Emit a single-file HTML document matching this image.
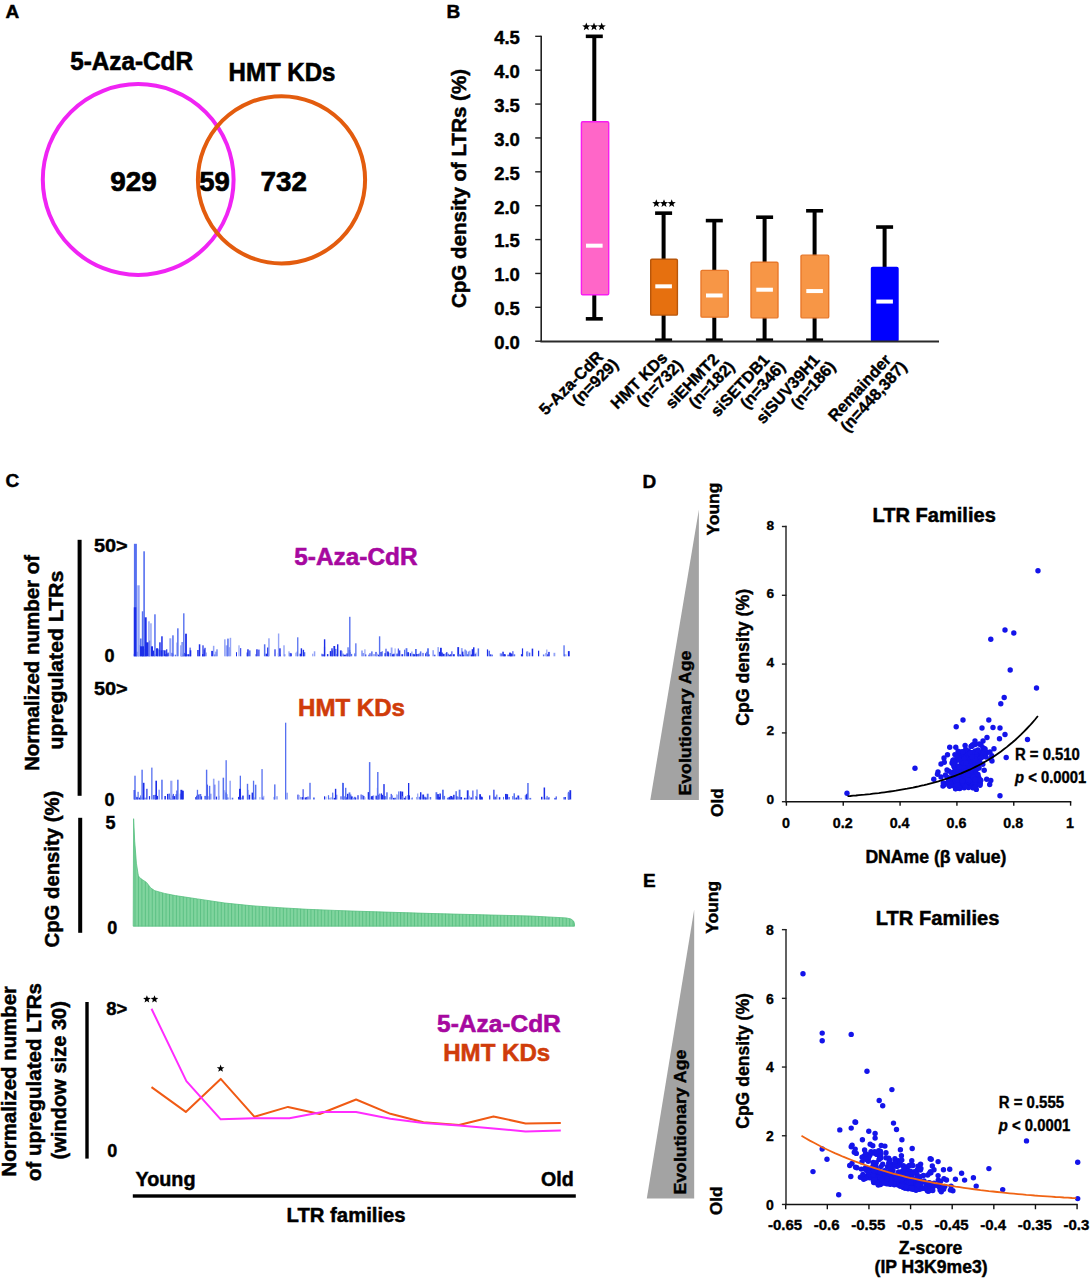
<!DOCTYPE html>
<html><head><meta charset="utf-8"><title>Figure</title>
<style>html,body{margin:0;padding:0;background:#fff}svg{display:block}text{font-family:"Liberation Sans",sans-serif;font-weight:bold}</style>
</head><body>
<svg width="1092" height="1280" viewBox="0 0 1092 1280">
<rect width="1092" height="1280" fill="#fff"/>
<text x="5.5" y="18" font-size="19" fill="#000" stroke="#000" stroke-width="0.46" text-anchor="start" >A</text>
<text x="446.5" y="17.8" font-size="19" fill="#000" stroke="#000" stroke-width="0.46" text-anchor="start" >B</text>
<text x="5.5" y="487" font-size="19" fill="#000" stroke="#000" stroke-width="0.46" text-anchor="start" >C</text>
<text x="642.5" y="487.6" font-size="19" fill="#000" stroke="#000" stroke-width="0.46" text-anchor="start" >D</text>
<text x="643" y="887.2" font-size="19" fill="#000" stroke="#000" stroke-width="0.46" text-anchor="start" >E</text>
<circle cx="138.2" cy="179.5" r="95.4" fill="none" stroke="#f024f4" stroke-width="4"/>
<circle cx="281.5" cy="179.8" r="83.6" fill="none" stroke="#e35c0e" stroke-width="4"/>
<text x="70.2" y="70.3" font-size="26" fill="#000" stroke="#000" stroke-width="0.62" text-anchor="start" textLength="122.8" lengthAdjust="spacingAndGlyphs" >5-Aza-CdR</text>
<text x="228.6" y="81.2" font-size="26" fill="#000" stroke="#000" stroke-width="0.62" text-anchor="start" textLength="106.8" lengthAdjust="spacingAndGlyphs" >HMT KDs</text>
<text x="110.2" y="191.2" font-size="28" fill="#000" stroke="#000" stroke-width="0.67" text-anchor="start" textLength="46.6" lengthAdjust="spacingAndGlyphs" >929</text>
<text x="199.3" y="191.2" font-size="28" fill="#000" stroke="#000" stroke-width="0.67" text-anchor="start" textLength="30.6" lengthAdjust="spacingAndGlyphs" >59</text>
<text x="260.5" y="190.6" font-size="28" fill="#000" stroke="#000" stroke-width="0.67" text-anchor="start" textLength="46.4" lengthAdjust="spacingAndGlyphs" >732</text>
<line x1="541.2" y1="35.624999999999986" x2="541.2" y2="341.2" stroke="#222" stroke-width="1.6"/>
<line x1="535.2" y1="341.2" x2="541.2" y2="341.2" stroke="#222" stroke-width="1.4"/>
<text x="519.9" y="349.09999999999997" font-size="18.8" fill="#000" stroke="#000" stroke-width="0.45" text-anchor="end" textLength="25.7" lengthAdjust="spacingAndGlyphs" >0.0</text>
<line x1="535.2" y1="307.325" x2="541.2" y2="307.325" stroke="#222" stroke-width="1.4"/>
<text x="519.9" y="315.22499999999997" font-size="18.8" fill="#000" stroke="#000" stroke-width="0.45" text-anchor="end" textLength="25.7" lengthAdjust="spacingAndGlyphs" >0.5</text>
<line x1="535.2" y1="273.45" x2="541.2" y2="273.45" stroke="#222" stroke-width="1.4"/>
<text x="519.9" y="281.34999999999997" font-size="18.8" fill="#000" stroke="#000" stroke-width="0.45" text-anchor="end" textLength="25.7" lengthAdjust="spacingAndGlyphs" >1.0</text>
<line x1="535.2" y1="239.575" x2="541.2" y2="239.575" stroke="#222" stroke-width="1.4"/>
<text x="519.9" y="247.475" font-size="18.8" fill="#000" stroke="#000" stroke-width="0.45" text-anchor="end" textLength="25.7" lengthAdjust="spacingAndGlyphs" >1.5</text>
<line x1="535.2" y1="205.7" x2="541.2" y2="205.7" stroke="#222" stroke-width="1.4"/>
<text x="519.9" y="213.6" font-size="18.8" fill="#000" stroke="#000" stroke-width="0.45" text-anchor="end" textLength="25.7" lengthAdjust="spacingAndGlyphs" >2.0</text>
<line x1="535.2" y1="171.825" x2="541.2" y2="171.825" stroke="#222" stroke-width="1.4"/>
<text x="519.9" y="179.725" font-size="18.8" fill="#000" stroke="#000" stroke-width="0.45" text-anchor="end" textLength="25.7" lengthAdjust="spacingAndGlyphs" >2.5</text>
<line x1="535.2" y1="137.95" x2="541.2" y2="137.95" stroke="#222" stroke-width="1.4"/>
<text x="519.9" y="145.85" font-size="18.8" fill="#000" stroke="#000" stroke-width="0.45" text-anchor="end" textLength="25.7" lengthAdjust="spacingAndGlyphs" >3.0</text>
<line x1="535.2" y1="104.07499999999999" x2="541.2" y2="104.07499999999999" stroke="#222" stroke-width="1.4"/>
<text x="519.9" y="111.975" font-size="18.8" fill="#000" stroke="#000" stroke-width="0.45" text-anchor="end" textLength="25.7" lengthAdjust="spacingAndGlyphs" >3.5</text>
<line x1="535.2" y1="70.19999999999999" x2="541.2" y2="70.19999999999999" stroke="#222" stroke-width="1.4"/>
<text x="519.9" y="78.1" font-size="18.8" fill="#000" stroke="#000" stroke-width="0.45" text-anchor="end" textLength="25.7" lengthAdjust="spacingAndGlyphs" >4.0</text>
<line x1="535.2" y1="36.32499999999999" x2="541.2" y2="36.32499999999999" stroke="#222" stroke-width="1.4"/>
<text x="519.9" y="44.22499999999999" font-size="18.8" fill="#000" stroke="#000" stroke-width="0.45" text-anchor="end" textLength="25.7" lengthAdjust="spacingAndGlyphs" >4.5</text>
<text x="466.3" y="308" font-size="21" fill="#000" stroke="#000" stroke-width="0.5" text-anchor="start" textLength="239" lengthAdjust="spacingAndGlyphs" transform="rotate(-90 466.3 308)" >CpG density of LTRs (%)</text>
<line x1="594.3" y1="36.32499999999999" x2="594.3" y2="318.8425" stroke="#000" stroke-width="4"/>
<line x1="585.8" y1="36.32499999999999" x2="602.8" y2="36.32499999999999" stroke="#000" stroke-width="3.6"/>
<line x1="585.8" y1="318.8425" x2="602.8" y2="318.8425" stroke="#000" stroke-width="3.6"/>
<rect x="581.4" y="121.68999999999997" width="27.300000000000068" height="173.10125000000002" fill="#ff66c8" stroke="#f81cf0" stroke-width="1.4" rx="1.2"/>
<rect x="586.0" y="243.6725" width="16.6" height="4" fill="#fff"/>
<line x1="663.6" y1="213.1525" x2="663.6" y2="341.2" stroke="#000" stroke-width="4"/>
<line x1="655.1" y1="213.1525" x2="672.1" y2="213.1525" stroke="#000" stroke-width="3.6"/>
<line x1="655.1" y1="340.2" x2="672.1" y2="340.2" stroke="#000" stroke-width="3.6"/>
<rect x="650.7" y="259.22249999999997" width="26.699999999999932" height="55.89375000000001" fill="#e6700f" stroke="#b8560a" stroke-width="1.4" rx="1.2"/>
<rect x="655.3000000000001" y="284.3225" width="16.6" height="4" fill="#fff"/>
<line x1="714.3" y1="220.605" x2="714.3" y2="341.2" stroke="#000" stroke-width="4"/>
<line x1="705.8" y1="220.605" x2="722.8" y2="220.605" stroke="#000" stroke-width="3.6"/>
<line x1="705.8" y1="340.2" x2="722.8" y2="340.2" stroke="#000" stroke-width="3.6"/>
<rect x="701" y="270.40125" width="27.200000000000045" height="46.7475" fill="#f79646" stroke="#e8782a" stroke-width="1.4" rx="1.2"/>
<rect x="706.0" y="293.46875" width="16.6" height="4" fill="#fff"/>
<line x1="764.6" y1="217.21749999999997" x2="764.6" y2="341.2" stroke="#000" stroke-width="4"/>
<line x1="756.1" y1="217.21749999999997" x2="773.1" y2="217.21749999999997" stroke="#000" stroke-width="3.6"/>
<line x1="756.1" y1="340.2" x2="773.1" y2="340.2" stroke="#000" stroke-width="3.6"/>
<rect x="751" y="262.27125" width="27" height="55.55500000000001" fill="#f79646" stroke="#e8782a" stroke-width="1.4" rx="1.2"/>
<rect x="756.3000000000001" y="287.71" width="16.6" height="4" fill="#fff"/>
<line x1="814.6" y1="210.78124999999997" x2="814.6" y2="341.2" stroke="#000" stroke-width="4"/>
<line x1="806.1" y1="210.78124999999997" x2="823.1" y2="210.78124999999997" stroke="#000" stroke-width="3.6"/>
<line x1="806.1" y1="340.2" x2="823.1" y2="340.2" stroke="#000" stroke-width="3.6"/>
<rect x="801" y="255.15749999999997" width="27.700000000000045" height="62.668750000000045" fill="#f79646" stroke="#e8782a" stroke-width="1.4" rx="1.2"/>
<rect x="806.3000000000001" y="289.065" width="16.6" height="4" fill="#fff"/>
<line x1="884.6" y1="227.04125" x2="884.6" y2="341.2" stroke="#000" stroke-width="4"/>
<line x1="876.1" y1="227.04125" x2="893.1" y2="227.04125" stroke="#000" stroke-width="3.6"/>
<rect x="871.5" y="267.35249999999996" width="26.5" height="73.84750000000003" fill="#0000ff" stroke="#0000ff" stroke-width="1.4" rx="1.2"/>
<rect x="876.3000000000001" y="299.56624999999997" width="16.6" height="4" fill="#fff"/>
<line x1="540.4000000000001" y1="341.5" x2="939" y2="341.5" stroke="#2a2a2a" stroke-width="2"/>
<polygon points="586.30,22.50 587.36,25.34 590.39,25.47 588.02,27.36 588.83,30.28 586.30,28.61 583.77,30.28 584.58,27.36 582.21,25.47 585.24,25.34" fill="#000"/>
<polygon points="594.00,22.50 595.06,25.34 598.09,25.47 595.72,27.36 596.53,30.28 594.00,28.61 591.47,30.28 592.28,27.36 589.91,25.47 592.94,25.34" fill="#000"/>
<polygon points="601.70,22.50 602.76,25.34 605.79,25.47 603.42,27.36 604.23,30.28 601.70,28.61 599.17,30.28 599.98,27.36 597.61,25.47 600.64,25.34" fill="#000"/>
<polygon points="656.30,199.20 657.36,202.04 660.39,202.17 658.02,204.06 658.83,206.98 656.30,205.31 653.77,206.98 654.58,204.06 652.21,202.17 655.24,202.04" fill="#000"/>
<polygon points="664.00,199.20 665.06,202.04 668.09,202.17 665.72,204.06 666.53,206.98 664.00,205.31 661.47,206.98 662.28,204.06 659.91,202.17 662.94,202.04" fill="#000"/>
<polygon points="671.70,199.20 672.76,202.04 675.79,202.17 673.42,204.06 674.23,206.98 671.70,205.31 669.17,206.98 669.98,204.06 667.61,202.17 670.64,202.04" fill="#000"/>
<g transform="translate(604.0 357.9) rotate(-45)">
<text x="0" y="0" font-size="16.3" stroke="#000" stroke-width="0.4" text-anchor="end">5-Aza-CdR</text>
<text x="5.5" y="16.2" font-size="16.3" stroke="#000" stroke-width="0.4" text-anchor="end">(n=929)</text>
</g>
<g transform="translate(668.5 358.8) rotate(-45)">
<text x="0" y="0" font-size="16.3" stroke="#000" stroke-width="0.4" text-anchor="end">HMT KDs</text>
<text x="5.5" y="16.2" font-size="16.3" stroke="#000" stroke-width="0.4" text-anchor="end">(n=732)</text>
</g>
<g transform="translate(720 360.3) rotate(-46)">
<text x="0" y="0" font-size="16.3" stroke="#000" stroke-width="0.4" text-anchor="end">siEHMT2</text>
<text x="5.5" y="16.2" font-size="16.3" stroke="#000" stroke-width="0.4" text-anchor="end">(n=182)</text>
</g>
<g transform="translate(770.5 360.5) rotate(-47.3)">
<text x="0" y="0" font-size="16.3" stroke="#000" stroke-width="0.4" text-anchor="end">siSETDB1</text>
<text x="5.5" y="16.2" font-size="16.3" stroke="#000" stroke-width="0.4" text-anchor="end">(n=346)</text>
</g>
<g transform="translate(820.5 360.5) rotate(-48.3)">
<text x="0" y="0" font-size="16.3" stroke="#000" stroke-width="0.4" text-anchor="end">siSUV39H1</text>
<text x="5.5" y="16.2" font-size="16.3" stroke="#000" stroke-width="0.4" text-anchor="end">(n=186)</text>
</g>
<g transform="translate(892 360.5) rotate(-47.5)">
<text x="0" y="0" font-size="16.3" stroke="#000" stroke-width="0.4" text-anchor="end">Remainder</text>
<text x="5.5" y="16.2" font-size="16.3" stroke="#000" stroke-width="0.4" text-anchor="end">(n=448,387)</text>
</g>
<rect x="77.6" y="539.8" width="4" height="256" fill="#000"/>
<rect x="78.2" y="817.8" width="4" height="115" fill="#000"/>
<rect x="85.3" y="1002" width="3.4" height="156.6" fill="#000"/>
<rect x="132.8" y="1194.3" width="443" height="3.4" fill="#000"/>
<text x="38.5" y="771" font-size="20" fill="#000" stroke="#000" stroke-width="0.48" text-anchor="start" textLength="216" lengthAdjust="spacingAndGlyphs" transform="rotate(-90 38.5 771)" >Normalized number of</text>
<text x="62.6" y="749.4" font-size="20" fill="#000" stroke="#000" stroke-width="0.48" text-anchor="start" textLength="178.6" lengthAdjust="spacingAndGlyphs" transform="rotate(-90 62.6 749.4)" >upregulated LTRs</text>
<text x="94" y="551.6" font-size="18" fill="#000" stroke="#000" stroke-width="0.43" text-anchor="start" textLength="33.7" lengthAdjust="spacingAndGlyphs" >50&gt;</text>
<text x="104.4" y="662.3" font-size="18" fill="#000" stroke="#000" stroke-width="0.43" text-anchor="start" >0</text>
<text x="94" y="694.5" font-size="18" fill="#000" stroke="#000" stroke-width="0.43" text-anchor="start" textLength="33.7" lengthAdjust="spacingAndGlyphs" >50&gt;</text>
<text x="104.4" y="805.7" font-size="18" fill="#000" stroke="#000" stroke-width="0.43" text-anchor="start" >0</text>
<text x="105.6" y="828.8" font-size="18" fill="#000" stroke="#000" stroke-width="0.43" text-anchor="start" >5</text>
<text x="107.2" y="933.5" font-size="18" fill="#000" stroke="#000" stroke-width="0.43" text-anchor="start" >0</text>
<text x="58.9" y="947.4" font-size="20" fill="#000" stroke="#000" stroke-width="0.48" text-anchor="start" textLength="156.6" lengthAdjust="spacingAndGlyphs" transform="rotate(-90 58.9 947.4)" >CpG density (%)</text>
<text x="294.3" y="565" font-size="24.5" fill="#a6089f" stroke="#a6089f" stroke-width="0.59" text-anchor="start" textLength="123.2" lengthAdjust="spacingAndGlyphs" >5-Aza-CdR</text>
<text x="298" y="716" font-size="24.5" fill="#d03c0a" stroke="#d03c0a" stroke-width="0.59" text-anchor="start" textLength="107" lengthAdjust="spacingAndGlyphs" >HMT KDs</text>
<rect x="133.6" y="653.8" width="1" height="2.5" fill="#94a4f6"/>
<rect x="135.6" y="654.4" width="1.2" height="1.9" fill="#5670f0"/>
<rect x="136.6" y="651.7" width="1" height="4.6" fill="#1c2ee8"/>
<rect x="138.2" y="645.1" width="1.2" height="11.2" fill="#1c2ee8"/>
<rect x="139.8" y="638.5" width="1.8" height="17.8" fill="#5670f0"/>
<rect x="141.8" y="653.9" width="1.2" height="2.4" fill="#5670f0"/>
<rect x="143.4" y="652.7" width="1.2" height="3.6" fill="#94a4f6"/>
<rect x="144.4" y="649.1" width="1" height="7.2" fill="#1c2ee8"/>
<rect x="147.6" y="653.4" width="1.8" height="2.9" fill="#94a4f6"/>
<rect x="148.9" y="640.6" width="1.5" height="15.7" fill="#1c2ee8"/>
<rect x="152.5" y="650.6" width="1.8" height="5.7" fill="#1c2ee8"/>
<rect x="153.8" y="654.3" width="1.8" height="2.0" fill="#5670f0"/>
<rect x="157.1" y="648.6" width="1.5" height="7.7" fill="#5670f0"/>
<rect x="158.4" y="649.7" width="1.8" height="6.6" fill="#5670f0"/>
<rect x="160.7" y="650.3" width="1.5" height="6.0" fill="#1c2ee8"/>
<rect x="162.3" y="650.1" width="1.5" height="6.2" fill="#5670f0"/>
<rect x="163.9" y="650.3" width="1.8" height="6.0" fill="#1c2ee8"/>
<rect x="165.2" y="654.2" width="1.2" height="2.1" fill="#1c2ee8"/>
<rect x="166.5" y="653.6" width="1.8" height="2.7" fill="#5670f0"/>
<rect x="167.5" y="652.6" width="1.2" height="3.7" fill="#1c2ee8"/>
<rect x="171.4" y="652.8" width="1.2" height="3.5" fill="#1c2ee8"/>
<rect x="172.4" y="653.6" width="1" height="2.7" fill="#1c2ee8"/>
<rect x="174.7" y="654.7" width="1.5" height="1.6" fill="#5670f0"/>
<rect x="176.3" y="642.5" width="1" height="13.8" fill="#94a4f6"/>
<rect x="180.5" y="652.7" width="1.8" height="3.6" fill="#5670f0"/>
<rect x="181.5" y="642.0" width="1.2" height="14.3" fill="#5670f0"/>
<rect x="182.5" y="654.5" width="1.2" height="1.8" fill="#1c2ee8"/>
<rect x="184.1" y="652.9" width="1" height="3.4" fill="#1c2ee8"/>
<rect x="185.1" y="654.1" width="1.5" height="2.2" fill="#1c2ee8"/>
<rect x="186.7" y="654.2" width="1.8" height="2.1" fill="#5670f0"/>
<rect x="188.0" y="654.3" width="1.5" height="2.0" fill="#1c2ee8"/>
<rect x="189.6" y="647.6" width="1" height="8.7" fill="#1c2ee8"/>
<rect x="197.2" y="650.0" width="1.5" height="6.3" fill="#1c2ee8"/>
<rect x="202.0" y="654.1" width="1.5" height="2.2" fill="#1c2ee8"/>
<rect x="203.6" y="649.4" width="1.2" height="6.9" fill="#1c2ee8"/>
<rect x="205.9" y="652.5" width="1" height="3.8" fill="#94a4f6"/>
<rect x="211.2" y="650.9" width="1.8" height="5.4" fill="#1c2ee8"/>
<rect x="214.1" y="654.4" width="1.2" height="1.9" fill="#5670f0"/>
<rect x="215.4" y="651.6" width="1" height="4.7" fill="#5670f0"/>
<rect x="225.5" y="645.4" width="1.8" height="10.9" fill="#94a4f6"/>
<rect x="226.8" y="645.3" width="1.2" height="11.0" fill="#94a4f6"/>
<rect x="228.8" y="647.2" width="1.2" height="9.1" fill="#94a4f6"/>
<rect x="236.0" y="652.2" width="1" height="4.1" fill="#1c2ee8"/>
<rect x="240.2" y="648.1" width="1" height="8.2" fill="#1c2ee8"/>
<rect x="246.5" y="652.5" width="1.5" height="3.8" fill="#5670f0"/>
<rect x="248.8" y="650.4" width="1.8" height="5.9" fill="#5670f0"/>
<rect x="255.4" y="654.2" width="1" height="2.1" fill="#5670f0"/>
<rect x="258.3" y="649.6" width="1.2" height="6.7" fill="#1c2ee8"/>
<rect x="265.5" y="653.7" width="1.8" height="2.6" fill="#1c2ee8"/>
<rect x="267.1" y="647.5" width="1.8" height="8.8" fill="#1c2ee8"/>
<rect x="277.9" y="653.1" width="1" height="3.2" fill="#1c2ee8"/>
<rect x="279.5" y="654.5" width="1.5" height="1.8" fill="#94a4f6"/>
<rect x="284.1" y="654.2" width="1.2" height="2.1" fill="#5670f0"/>
<rect x="289.0" y="652.9" width="1.8" height="3.4" fill="#5670f0"/>
<rect x="290.3" y="653.3" width="1.5" height="3.0" fill="#1c2ee8"/>
<rect x="295.3" y="652.7" width="1" height="3.6" fill="#94a4f6"/>
<rect x="296.6" y="651.6" width="1" height="4.7" fill="#5670f0"/>
<rect x="299.6" y="653.7" width="1.5" height="2.6" fill="#1c2ee8"/>
<rect x="303.5" y="652.2" width="1.8" height="4.1" fill="#5670f0"/>
<rect x="312.1" y="653.7" width="1.2" height="2.6" fill="#94a4f6"/>
<rect x="321.3" y="653.7" width="1.2" height="2.6" fill="#5670f0"/>
<rect x="322.3" y="654.3" width="1.5" height="2.0" fill="#1c2ee8"/>
<rect x="323.9" y="646.8" width="1.2" height="9.5" fill="#5670f0"/>
<rect x="326.9" y="654.1" width="1.5" height="2.2" fill="#1c2ee8"/>
<rect x="329.8" y="651.1" width="1.5" height="5.2" fill="#1c2ee8"/>
<rect x="331.8" y="650.5" width="1.2" height="5.8" fill="#5670f0"/>
<rect x="333.4" y="646.0" width="1.8" height="10.3" fill="#1c2ee8"/>
<rect x="335.0" y="648.9" width="1.5" height="7.4" fill="#5670f0"/>
<rect x="336.6" y="653.9" width="1.2" height="2.4" fill="#1c2ee8"/>
<rect x="339.9" y="650.4" width="1.8" height="5.9" fill="#1c2ee8"/>
<rect x="340.9" y="651.2" width="1.5" height="5.1" fill="#5670f0"/>
<rect x="342.5" y="653.6" width="1.2" height="2.7" fill="#5670f0"/>
<rect x="343.5" y="654.7" width="1.5" height="1.6" fill="#1c2ee8"/>
<rect x="345.1" y="654.6" width="1.2" height="1.7" fill="#1c2ee8"/>
<rect x="346.4" y="653.4" width="1.8" height="2.9" fill="#1c2ee8"/>
<rect x="348.7" y="649.9" width="1.5" height="6.4" fill="#1c2ee8"/>
<rect x="349.7" y="651.9" width="1" height="4.4" fill="#5670f0"/>
<rect x="351.0" y="653.9" width="1.2" height="2.4" fill="#5670f0"/>
<rect x="354.2" y="653.4" width="1.2" height="2.9" fill="#5670f0"/>
<rect x="361.1" y="650.5" width="1.8" height="5.8" fill="#94a4f6"/>
<rect x="362.7" y="653.0" width="1" height="3.3" fill="#5670f0"/>
<rect x="364.3" y="649.3" width="1.2" height="7.0" fill="#94a4f6"/>
<rect x="365.3" y="654.4" width="1" height="1.9" fill="#1c2ee8"/>
<rect x="368.2" y="654.7" width="1.2" height="1.6" fill="#5670f0"/>
<rect x="369.5" y="653.2" width="1" height="3.1" fill="#1c2ee8"/>
<rect x="371.1" y="651.4" width="1.5" height="4.9" fill="#5670f0"/>
<rect x="373.1" y="654.1" width="1.8" height="2.2" fill="#94a4f6"/>
<rect x="375.4" y="651.9" width="1.2" height="4.4" fill="#1c2ee8"/>
<rect x="376.4" y="653.7" width="1.5" height="2.6" fill="#94a4f6"/>
<rect x="378.0" y="654.7" width="1.8" height="1.6" fill="#1c2ee8"/>
<rect x="380.3" y="652.0" width="1.5" height="4.3" fill="#1c2ee8"/>
<rect x="381.6" y="651.2" width="1.2" height="5.1" fill="#5670f0"/>
<rect x="384.2" y="653.2" width="1.8" height="3.1" fill="#5670f0"/>
<rect x="385.5" y="648.7" width="1" height="7.6" fill="#1c2ee8"/>
<rect x="387.1" y="651.4" width="1.5" height="4.9" fill="#1c2ee8"/>
<rect x="388.1" y="652.3" width="1" height="4.0" fill="#1c2ee8"/>
<rect x="389.7" y="653.0" width="1.8" height="3.3" fill="#5670f0"/>
<rect x="390.7" y="647.5" width="1.8" height="8.8" fill="#94a4f6"/>
<rect x="392.0" y="654.3" width="1.8" height="2.0" fill="#1c2ee8"/>
<rect x="393.3" y="653.7" width="1.5" height="2.6" fill="#1c2ee8"/>
<rect x="394.6" y="648.4" width="1" height="7.9" fill="#94a4f6"/>
<rect x="396.2" y="653.6" width="1.8" height="2.7" fill="#5670f0"/>
<rect x="397.8" y="648.5" width="1" height="7.8" fill="#1c2ee8"/>
<rect x="399.1" y="650.4" width="1.2" height="5.9" fill="#1c2ee8"/>
<rect x="401.4" y="654.2" width="1.8" height="2.1" fill="#1c2ee8"/>
<rect x="404.0" y="649.7" width="1.2" height="6.6" fill="#5670f0"/>
<rect x="405.6" y="648.2" width="1.8" height="8.1" fill="#5670f0"/>
<rect x="407.2" y="652.2" width="1.8" height="4.1" fill="#1c2ee8"/>
<rect x="409.8" y="653.2" width="1.5" height="3.1" fill="#1c2ee8"/>
<rect x="411.1" y="651.5" width="1.5" height="4.8" fill="#94a4f6"/>
<rect x="412.4" y="653.8" width="1.8" height="2.5" fill="#5670f0"/>
<rect x="413.4" y="654.3" width="1.8" height="2.0" fill="#1c2ee8"/>
<rect x="415.0" y="649.0" width="1.8" height="7.3" fill="#5670f0"/>
<rect x="416.0" y="654.0" width="1.5" height="2.3" fill="#1c2ee8"/>
<rect x="417.6" y="654.0" width="1.2" height="2.3" fill="#1c2ee8"/>
<rect x="418.6" y="653.4" width="1.2" height="2.9" fill="#5670f0"/>
<rect x="419.9" y="651.4" width="1.5" height="4.9" fill="#5670f0"/>
<rect x="422.5" y="652.9" width="1" height="3.4" fill="#1c2ee8"/>
<rect x="425.1" y="653.3" width="1" height="3.0" fill="#1c2ee8"/>
<rect x="426.1" y="651.7" width="1.8" height="4.6" fill="#5670f0"/>
<rect x="427.1" y="648.3" width="1.8" height="8.0" fill="#5670f0"/>
<rect x="428.4" y="654.4" width="1.2" height="1.9" fill="#1c2ee8"/>
<rect x="432.6" y="650.2" width="1" height="6.1" fill="#5670f0"/>
<rect x="434.2" y="654.7" width="1.2" height="1.6" fill="#1c2ee8"/>
<rect x="437.4" y="647.1" width="1.5" height="9.2" fill="#94a4f6"/>
<rect x="439.0" y="651.8" width="1" height="4.5" fill="#1c2ee8"/>
<rect x="440.0" y="647.8" width="1.8" height="8.5" fill="#1c2ee8"/>
<rect x="441.3" y="652.5" width="1.5" height="3.8" fill="#1c2ee8"/>
<rect x="442.6" y="653.8" width="1.8" height="2.5" fill="#1c2ee8"/>
<rect x="444.2" y="654.0" width="1.5" height="2.3" fill="#5670f0"/>
<rect x="445.2" y="653.0" width="1.8" height="3.3" fill="#94a4f6"/>
<rect x="446.2" y="652.1" width="1.2" height="4.2" fill="#1c2ee8"/>
<rect x="447.5" y="653.7" width="1.5" height="2.6" fill="#5670f0"/>
<rect x="449.1" y="654.7" width="1" height="1.6" fill="#1c2ee8"/>
<rect x="450.1" y="654.2" width="1.2" height="2.1" fill="#1c2ee8"/>
<rect x="451.4" y="651.3" width="1" height="5.0" fill="#1c2ee8"/>
<rect x="453.0" y="654.2" width="1.8" height="2.1" fill="#1c2ee8"/>
<rect x="457.3" y="647.1" width="1.8" height="9.2" fill="#1c2ee8"/>
<rect x="458.3" y="654.2" width="1.5" height="2.1" fill="#5670f0"/>
<rect x="459.9" y="654.5" width="1.5" height="1.8" fill="#1c2ee8"/>
<rect x="460.9" y="648.1" width="1.8" height="8.2" fill="#94a4f6"/>
<rect x="461.9" y="651.6" width="1.5" height="4.7" fill="#1c2ee8"/>
<rect x="463.2" y="654.7" width="1" height="1.6" fill="#1c2ee8"/>
<rect x="464.5" y="649.5" width="1.2" height="6.8" fill="#5670f0"/>
<rect x="465.8" y="650.6" width="1" height="5.7" fill="#5670f0"/>
<rect x="466.8" y="654.2" width="1.8" height="2.1" fill="#5670f0"/>
<rect x="467.8" y="651.5" width="1" height="4.8" fill="#5670f0"/>
<rect x="469.4" y="650.7" width="1" height="5.6" fill="#5670f0"/>
<rect x="470.7" y="654.5" width="1.5" height="1.8" fill="#1c2ee8"/>
<rect x="471.7" y="649.2" width="1.5" height="7.1" fill="#1c2ee8"/>
<rect x="473.0" y="647.3" width="1.5" height="9.0" fill="#1c2ee8"/>
<rect x="474.6" y="653.8" width="1.5" height="2.5" fill="#1c2ee8"/>
<rect x="475.6" y="652.5" width="1" height="3.8" fill="#94a4f6"/>
<rect x="477.6" y="648.4" width="1.5" height="7.9" fill="#5670f0"/>
<rect x="486.9" y="649.4" width="1.2" height="6.9" fill="#1c2ee8"/>
<rect x="488.5" y="650.7" width="1.5" height="5.6" fill="#5670f0"/>
<rect x="490.1" y="654.3" width="1.2" height="2.0" fill="#1c2ee8"/>
<rect x="491.4" y="654.6" width="1.5" height="1.7" fill="#5670f0"/>
<rect x="499.7" y="653.3" width="1.8" height="3.0" fill="#94a4f6"/>
<rect x="500.7" y="653.6" width="1.2" height="2.7" fill="#5670f0"/>
<rect x="502.3" y="651.7" width="1.5" height="4.6" fill="#1c2ee8"/>
<rect x="503.6" y="654.1" width="1.5" height="2.2" fill="#1c2ee8"/>
<rect x="504.6" y="654.3" width="1.2" height="2.0" fill="#1c2ee8"/>
<rect x="507.5" y="654.6" width="1.2" height="1.7" fill="#1c2ee8"/>
<rect x="509.1" y="652.6" width="1.8" height="3.7" fill="#1c2ee8"/>
<rect x="510.1" y="653.4" width="1.8" height="2.9" fill="#1c2ee8"/>
<rect x="511.4" y="654.0" width="1" height="2.3" fill="#1c2ee8"/>
<rect x="512.4" y="651.2" width="1" height="5.1" fill="#1c2ee8"/>
<rect x="513.7" y="654.3" width="1.5" height="2.0" fill="#5670f0"/>
<rect x="520.9" y="654.2" width="1.5" height="2.1" fill="#1c2ee8"/>
<rect x="521.9" y="648.4" width="1.2" height="7.9" fill="#1c2ee8"/>
<rect x="526.2" y="651.5" width="1.8" height="4.8" fill="#5670f0"/>
<rect x="527.2" y="651.5" width="1.2" height="4.8" fill="#94a4f6"/>
<rect x="528.8" y="652.6" width="1.5" height="3.7" fill="#5670f0"/>
<rect x="531.7" y="648.6" width="1.5" height="7.7" fill="#1c2ee8"/>
<rect x="538.0" y="650.7" width="1.2" height="5.6" fill="#1c2ee8"/>
<rect x="542.9" y="654.5" width="1.5" height="1.8" fill="#5670f0"/>
<rect x="545.2" y="653.1" width="1.8" height="3.2" fill="#94a4f6"/>
<rect x="546.2" y="649.5" width="1.2" height="6.8" fill="#94a4f6"/>
<rect x="547.2" y="654.3" width="1" height="2.0" fill="#1c2ee8"/>
<rect x="548.2" y="651.9" width="1.5" height="4.4" fill="#1c2ee8"/>
<rect x="553.5" y="652.8" width="1.8" height="3.5" fill="#94a4f6"/>
<rect x="564.0" y="654.2" width="1.2" height="2.1" fill="#5670f0"/>
<rect x="565.3" y="654.4" width="1.2" height="1.9" fill="#94a4f6"/>
<rect x="567.9" y="651.1" width="1.8" height="5.2" fill="#1c2ee8"/>
<rect x="133.9" y="543.8" width="3" height="112.5" fill="#5670f0"/>
<rect x="133.8" y="607.3" width="2.5" height="49.0" fill="#1c2ee8"/>
<rect x="137.3" y="585.3" width="2.4" height="71.0" fill="#94a4f6"/>
<rect x="143.3" y="551.3" width="1.6" height="105.0" fill="#5670f0"/>
<rect x="141.8" y="611.3" width="1.5" height="45.0" fill="#5670f0"/>
<rect x="144.7" y="617.3" width="2" height="39.0" fill="#1c2ee8"/>
<rect x="148.2" y="621.3" width="1.5" height="35.0" fill="#94a4f6"/>
<rect x="150.2" y="623.3" width="1.5" height="33.0" fill="#94a4f6"/>
<rect x="154.2" y="614.3" width="1.5" height="42.0" fill="#5670f0"/>
<rect x="161.2" y="636.3" width="1.5" height="20.0" fill="#1c2ee8"/>
<rect x="159.2" y="642.3" width="1.5" height="14.0" fill="#1c2ee8"/>
<rect x="166.1" y="649.3" width="1.2" height="7.0" fill="#1c2ee8"/>
<rect x="169.3" y="638.3" width="2" height="18.0" fill="#94a4f6"/>
<rect x="172.2" y="635.3" width="1.5" height="21.0" fill="#5670f0"/>
<rect x="177.1" y="628.3" width="1.5" height="28.0" fill="#5670f0"/>
<rect x="180.1" y="645.3" width="2.5" height="11.0" fill="#94a4f6"/>
<rect x="183.1" y="613.3" width="1.4" height="43.0" fill="#5670f0"/>
<rect x="185.1" y="633.7" width="1.8" height="22.6" fill="#1c2ee8"/>
<rect x="189.8" y="650.3" width="1.5" height="6.0" fill="#1c2ee8"/>
<rect x="198.8" y="644.3" width="1.5" height="12.0" fill="#1c2ee8"/>
<rect x="202.4" y="645.3" width="1.2" height="11.0" fill="#1c2ee8"/>
<rect x="204.4" y="647.8" width="1.2" height="8.5" fill="#1c2ee8"/>
<rect x="212.9" y="645.8" width="1.5" height="10.5" fill="#94a4f6"/>
<rect x="216.4" y="649.3" width="1.2" height="7.0" fill="#5670f0"/>
<rect x="224.1" y="639.3" width="1.5" height="17.0" fill="#94a4f6"/>
<rect x="227.2" y="638.6" width="1.5" height="17.7" fill="#5670f0"/>
<rect x="229.7" y="637.8" width="1.5" height="18.5" fill="#94a4f6"/>
<rect x="238.4" y="645.3" width="1.2" height="11.0" fill="#94a4f6"/>
<rect x="247.2" y="649.3" width="1.5" height="7.0" fill="#1c2ee8"/>
<rect x="256.2" y="649.3" width="1.5" height="7.0" fill="#1c2ee8"/>
<rect x="263.9" y="644.3" width="1.5" height="12.0" fill="#5670f0"/>
<rect x="268.2" y="638.3" width="1.5" height="18.0" fill="#94a4f6"/>
<rect x="274.4" y="649.3" width="1.2" height="7.0" fill="#1c2ee8"/>
<rect x="277.9" y="633.5" width="1.4" height="22.8" fill="#94a4f6"/>
<rect x="279.2" y="648.3" width="1.5" height="8.0" fill="#1c2ee8"/>
<rect x="283.3" y="645.3" width="1.4" height="11.0" fill="#94a4f6"/>
<rect x="288.4" y="651.3" width="1.2" height="5.0" fill="#94a4f6"/>
<rect x="297.1" y="637.3" width="1.3" height="19.0" fill="#5670f0"/>
<rect x="300.7" y="648.3" width="1.4" height="8.0" fill="#1c2ee8"/>
<rect x="302.7" y="649.8" width="1.4" height="6.5" fill="#1c2ee8"/>
<rect x="313.8" y="651.3" width="1.5" height="5.0" fill="#94a4f6"/>
<rect x="323.9" y="639.3" width="1.4" height="17.0" fill="#1c2ee8"/>
<rect x="331.3" y="648.3" width="1.4" height="8.0" fill="#1c2ee8"/>
<rect x="337.0" y="644.3" width="1.4" height="12.0" fill="#1c2ee8"/>
<rect x="349.1" y="616.8" width="1.4" height="39.5" fill="#5670f0"/>
<rect x="355.2" y="643.3" width="1.3" height="13.0" fill="#5670f0"/>
<rect x="347.4" y="647.3" width="1.3" height="9.0" fill="#5670f0"/>
<rect x="378.9" y="636.3" width="1.4" height="20.0" fill="#5670f0"/>
<rect x="563.4" y="645.3" width="1.3" height="11.0" fill="#5670f0"/>
<rect x="140.0" y="646.3" width="4" height="10.0" fill="#1c2ee8"/>
<rect x="145.5" y="642.3" width="3" height="14.0" fill="#1c2ee8"/>
<rect x="151.0" y="646.3" width="2" height="10.0" fill="#1c2ee8"/>
<rect x="156.0" y="648.3" width="2" height="8.0" fill="#1c2ee8"/>
<rect x="133.6" y="790.0" width="1.8" height="9.5" fill="#1c2ee8"/>
<rect x="134.9" y="795.6" width="1.5" height="3.9" fill="#94a4f6"/>
<rect x="136.2" y="797.1" width="1.8" height="2.4" fill="#1c2ee8"/>
<rect x="137.5" y="791.8" width="1.2" height="7.7" fill="#5670f0"/>
<rect x="138.8" y="797.6" width="1.8" height="1.9" fill="#1c2ee8"/>
<rect x="140.1" y="795.4" width="1" height="4.1" fill="#5670f0"/>
<rect x="141.1" y="797.5" width="1.5" height="2.0" fill="#94a4f6"/>
<rect x="142.7" y="797.7" width="1.8" height="1.8" fill="#5670f0"/>
<rect x="145.3" y="797.6" width="1" height="1.9" fill="#5670f0"/>
<rect x="146.3" y="788.8" width="1.2" height="10.7" fill="#1c2ee8"/>
<rect x="148.9" y="796.1" width="1.2" height="3.4" fill="#1c2ee8"/>
<rect x="152.8" y="795.0" width="1.2" height="4.5" fill="#5670f0"/>
<rect x="154.4" y="794.9" width="1.5" height="4.6" fill="#1c2ee8"/>
<rect x="155.4" y="795.7" width="1.5" height="3.8" fill="#94a4f6"/>
<rect x="157.0" y="795.9" width="1" height="3.6" fill="#1c2ee8"/>
<rect x="158.6" y="789.7" width="1" height="9.8" fill="#5670f0"/>
<rect x="164.4" y="796.0" width="1.5" height="3.5" fill="#1c2ee8"/>
<rect x="167.0" y="793.9" width="1.5" height="5.6" fill="#1c2ee8"/>
<rect x="168.6" y="793.6" width="1.5" height="5.9" fill="#5670f0"/>
<rect x="170.2" y="797.8" width="1.5" height="1.7" fill="#1c2ee8"/>
<rect x="171.8" y="795.6" width="1" height="3.9" fill="#1c2ee8"/>
<rect x="172.8" y="793.9" width="1" height="5.6" fill="#1c2ee8"/>
<rect x="173.8" y="796.1" width="1.5" height="3.4" fill="#1c2ee8"/>
<rect x="175.4" y="794.2" width="1.2" height="5.3" fill="#5670f0"/>
<rect x="176.4" y="790.5" width="1.2" height="9.0" fill="#1c2ee8"/>
<rect x="179.7" y="793.6" width="1.5" height="5.9" fill="#94a4f6"/>
<rect x="182.0" y="790.7" width="1.8" height="8.8" fill="#1c2ee8"/>
<rect x="195.2" y="797.1" width="1" height="2.4" fill="#1c2ee8"/>
<rect x="196.2" y="795.7" width="1.2" height="3.8" fill="#1c2ee8"/>
<rect x="198.2" y="794.5" width="1.2" height="5.0" fill="#1c2ee8"/>
<rect x="199.5" y="794.0" width="1.8" height="5.5" fill="#5670f0"/>
<rect x="201.1" y="796.3" width="1" height="3.2" fill="#1c2ee8"/>
<rect x="204.3" y="795.9" width="1.8" height="3.6" fill="#5670f0"/>
<rect x="206.6" y="784.6" width="1.2" height="14.9" fill="#1c2ee8"/>
<rect x="208.2" y="796.2" width="1.5" height="3.3" fill="#94a4f6"/>
<rect x="209.8" y="793.7" width="1.8" height="5.8" fill="#94a4f6"/>
<rect x="214.3" y="784.6" width="1" height="14.9" fill="#1c2ee8"/>
<rect x="215.9" y="796.6" width="1.2" height="2.9" fill="#1c2ee8"/>
<rect x="218.2" y="795.8" width="1.2" height="3.7" fill="#5670f0"/>
<rect x="224.3" y="790.2" width="1" height="9.3" fill="#94a4f6"/>
<rect x="225.3" y="792.5" width="1.5" height="7.0" fill="#5670f0"/>
<rect x="226.3" y="794.2" width="1.2" height="5.3" fill="#5670f0"/>
<rect x="227.3" y="797.4" width="1.2" height="2.1" fill="#5670f0"/>
<rect x="230.2" y="797.7" width="1" height="1.8" fill="#94a4f6"/>
<rect x="231.8" y="797.7" width="1.5" height="1.8" fill="#5670f0"/>
<rect x="238.0" y="796.9" width="1" height="2.6" fill="#1c2ee8"/>
<rect x="239.6" y="792.1" width="1.5" height="7.4" fill="#94a4f6"/>
<rect x="240.9" y="797.5" width="1.2" height="2.0" fill="#94a4f6"/>
<rect x="242.2" y="795.6" width="1.5" height="3.9" fill="#1c2ee8"/>
<rect x="247.4" y="789.9" width="1" height="9.6" fill="#5670f0"/>
<rect x="248.7" y="794.8" width="1.5" height="4.7" fill="#1c2ee8"/>
<rect x="251.6" y="792.6" width="1.5" height="6.9" fill="#1c2ee8"/>
<rect x="252.6" y="794.8" width="1" height="4.7" fill="#1c2ee8"/>
<rect x="253.6" y="797.5" width="1.2" height="2.0" fill="#94a4f6"/>
<rect x="254.9" y="784.7" width="1.5" height="14.8" fill="#5670f0"/>
<rect x="259.4" y="797.1" width="1" height="2.4" fill="#94a4f6"/>
<rect x="262.3" y="797.4" width="1.5" height="2.1" fill="#1c2ee8"/>
<rect x="263.3" y="795.8" width="1" height="3.7" fill="#94a4f6"/>
<rect x="273.6" y="796.9" width="1.2" height="2.6" fill="#5670f0"/>
<rect x="276.5" y="796.2" width="1" height="3.3" fill="#5670f0"/>
<rect x="286.4" y="792.7" width="1.5" height="6.8" fill="#94a4f6"/>
<rect x="297.4" y="794.6" width="1.2" height="4.9" fill="#1c2ee8"/>
<rect x="298.4" y="795.0" width="1.2" height="4.5" fill="#94a4f6"/>
<rect x="300.0" y="796.9" width="1.2" height="2.6" fill="#94a4f6"/>
<rect x="301.6" y="797.1" width="1.5" height="2.4" fill="#1c2ee8"/>
<rect x="302.6" y="789.2" width="1" height="10.3" fill="#1c2ee8"/>
<rect x="304.6" y="797.4" width="1.5" height="2.1" fill="#1c2ee8"/>
<rect x="306.2" y="797.0" width="1" height="2.5" fill="#1c2ee8"/>
<rect x="307.5" y="796.5" width="1" height="3.0" fill="#1c2ee8"/>
<rect x="313.0" y="797.5" width="1.8" height="2.0" fill="#5670f0"/>
<rect x="324.0" y="796.3" width="1" height="3.2" fill="#1c2ee8"/>
<rect x="325.3" y="796.5" width="1.2" height="3.0" fill="#94a4f6"/>
<rect x="327.9" y="795.2" width="1.2" height="4.3" fill="#5670f0"/>
<rect x="329.5" y="797.9" width="1" height="1.6" fill="#5670f0"/>
<rect x="330.5" y="797.2" width="1.2" height="2.3" fill="#94a4f6"/>
<rect x="332.1" y="792.6" width="1.2" height="6.9" fill="#5670f0"/>
<rect x="333.7" y="797.9" width="1.5" height="1.6" fill="#1c2ee8"/>
<rect x="336.3" y="794.7" width="1" height="4.8" fill="#5670f0"/>
<rect x="340.5" y="796.3" width="1" height="3.2" fill="#1c2ee8"/>
<rect x="343.4" y="796.5" width="1" height="3.0" fill="#1c2ee8"/>
<rect x="344.4" y="796.3" width="1.2" height="3.2" fill="#5670f0"/>
<rect x="345.7" y="797.3" width="1.2" height="2.2" fill="#1c2ee8"/>
<rect x="347.0" y="793.8" width="1.5" height="5.7" fill="#1c2ee8"/>
<rect x="348.6" y="792.4" width="1.8" height="7.1" fill="#5670f0"/>
<rect x="349.9" y="794.5" width="1.5" height="5.0" fill="#5670f0"/>
<rect x="350.9" y="796.4" width="1.8" height="3.1" fill="#1c2ee8"/>
<rect x="352.5" y="797.9" width="1.5" height="1.6" fill="#94a4f6"/>
<rect x="353.8" y="796.8" width="1.8" height="2.7" fill="#5670f0"/>
<rect x="355.1" y="797.6" width="1.2" height="1.9" fill="#1c2ee8"/>
<rect x="357.4" y="795.2" width="1.2" height="4.3" fill="#1c2ee8"/>
<rect x="360.6" y="794.5" width="1" height="5.0" fill="#1c2ee8"/>
<rect x="362.2" y="794.9" width="1.2" height="4.6" fill="#5670f0"/>
<rect x="363.2" y="796.0" width="1.2" height="3.5" fill="#1c2ee8"/>
<rect x="364.5" y="797.3" width="1" height="2.2" fill="#94a4f6"/>
<rect x="367.7" y="792.1" width="1.8" height="7.4" fill="#1c2ee8"/>
<rect x="369.3" y="797.6" width="1" height="1.9" fill="#5670f0"/>
<rect x="370.9" y="796.2" width="1.8" height="3.3" fill="#1c2ee8"/>
<rect x="372.2" y="795.8" width="1.8" height="3.7" fill="#1c2ee8"/>
<rect x="373.2" y="795.4" width="1" height="4.1" fill="#94a4f6"/>
<rect x="375.5" y="795.7" width="1.8" height="3.8" fill="#1c2ee8"/>
<rect x="376.8" y="787.8" width="1" height="11.7" fill="#94a4f6"/>
<rect x="377.8" y="794.7" width="1" height="4.8" fill="#1c2ee8"/>
<rect x="379.4" y="793.6" width="1" height="5.9" fill="#1c2ee8"/>
<rect x="381.0" y="793.4" width="1" height="6.1" fill="#1c2ee8"/>
<rect x="382.0" y="794.8" width="1" height="4.7" fill="#1c2ee8"/>
<rect x="383.6" y="795.8" width="1.2" height="3.7" fill="#5670f0"/>
<rect x="384.9" y="796.1" width="1" height="3.4" fill="#5670f0"/>
<rect x="386.2" y="792.3" width="1.5" height="7.2" fill="#5670f0"/>
<rect x="389.4" y="797.2" width="1" height="2.3" fill="#5670f0"/>
<rect x="390.7" y="793.9" width="1" height="5.6" fill="#1c2ee8"/>
<rect x="391.7" y="795.3" width="1" height="4.2" fill="#5670f0"/>
<rect x="393.0" y="797.9" width="1.8" height="1.6" fill="#1c2ee8"/>
<rect x="394.6" y="797.7" width="1.8" height="1.8" fill="#5670f0"/>
<rect x="396.2" y="794.3" width="1" height="5.2" fill="#94a4f6"/>
<rect x="397.2" y="794.7" width="1.2" height="4.8" fill="#94a4f6"/>
<rect x="398.2" y="791.4" width="1" height="8.1" fill="#5670f0"/>
<rect x="399.8" y="791.3" width="1.5" height="8.2" fill="#1c2ee8"/>
<rect x="401.4" y="791.6" width="1.8" height="7.9" fill="#1c2ee8"/>
<rect x="402.4" y="796.1" width="1" height="3.4" fill="#94a4f6"/>
<rect x="403.7" y="797.8" width="1.8" height="1.7" fill="#1c2ee8"/>
<rect x="405.3" y="796.2" width="1" height="3.3" fill="#1c2ee8"/>
<rect x="406.9" y="795.0" width="1.2" height="4.5" fill="#94a4f6"/>
<rect x="408.2" y="795.4" width="1.8" height="4.1" fill="#1c2ee8"/>
<rect x="410.8" y="797.9" width="1" height="1.6" fill="#94a4f6"/>
<rect x="411.8" y="797.5" width="1" height="2.0" fill="#5670f0"/>
<rect x="416.1" y="797.0" width="1.2" height="2.5" fill="#94a4f6"/>
<rect x="417.1" y="793.5" width="1.2" height="6.0" fill="#94a4f6"/>
<rect x="418.7" y="796.8" width="1.8" height="2.7" fill="#5670f0"/>
<rect x="420.0" y="792.2" width="1" height="7.3" fill="#1c2ee8"/>
<rect x="421.0" y="792.3" width="1" height="7.2" fill="#94a4f6"/>
<rect x="422.3" y="794.5" width="1.8" height="5.0" fill="#1c2ee8"/>
<rect x="423.9" y="796.7" width="1.8" height="2.8" fill="#5670f0"/>
<rect x="425.2" y="797.5" width="1.5" height="2.0" fill="#1c2ee8"/>
<rect x="426.8" y="793.7" width="1.8" height="5.8" fill="#5670f0"/>
<rect x="429.7" y="797.0" width="1.5" height="2.5" fill="#5670f0"/>
<rect x="435.5" y="792.2" width="1.8" height="7.3" fill="#5670f0"/>
<rect x="437.1" y="794.1" width="1.8" height="5.4" fill="#1c2ee8"/>
<rect x="438.4" y="796.9" width="1.8" height="2.6" fill="#1c2ee8"/>
<rect x="439.4" y="793.5" width="1.5" height="6.0" fill="#1c2ee8"/>
<rect x="442.0" y="789.7" width="1.8" height="9.8" fill="#5670f0"/>
<rect x="443.3" y="795.9" width="1.8" height="3.6" fill="#5670f0"/>
<rect x="446.9" y="797.7" width="1.8" height="1.8" fill="#5670f0"/>
<rect x="448.5" y="797.1" width="1.8" height="2.4" fill="#1c2ee8"/>
<rect x="449.8" y="795.9" width="1" height="3.6" fill="#1c2ee8"/>
<rect x="450.8" y="796.0" width="1.5" height="3.5" fill="#1c2ee8"/>
<rect x="452.1" y="797.3" width="1.2" height="2.2" fill="#1c2ee8"/>
<rect x="453.1" y="794.8" width="1.5" height="4.7" fill="#1c2ee8"/>
<rect x="455.4" y="791.2" width="1.5" height="8.3" fill="#5670f0"/>
<rect x="456.4" y="796.3" width="1.2" height="3.2" fill="#1c2ee8"/>
<rect x="457.7" y="796.8" width="1" height="2.7" fill="#5670f0"/>
<rect x="458.7" y="789.7" width="1.8" height="9.8" fill="#5670f0"/>
<rect x="460.3" y="797.1" width="1.8" height="2.4" fill="#1c2ee8"/>
<rect x="463.9" y="797.8" width="1.2" height="1.7" fill="#1c2ee8"/>
<rect x="465.2" y="797.8" width="1.5" height="1.7" fill="#5670f0"/>
<rect x="466.8" y="790.3" width="1.8" height="9.2" fill="#1c2ee8"/>
<rect x="468.8" y="795.7" width="1" height="3.8" fill="#94a4f6"/>
<rect x="470.4" y="797.4" width="1.5" height="2.1" fill="#1c2ee8"/>
<rect x="472.4" y="790.5" width="1" height="9.0" fill="#1c2ee8"/>
<rect x="475.0" y="796.0" width="1.8" height="3.5" fill="#94a4f6"/>
<rect x="476.0" y="796.9" width="1.2" height="2.6" fill="#1c2ee8"/>
<rect x="479.2" y="794.2" width="1.8" height="5.3" fill="#1c2ee8"/>
<rect x="480.5" y="796.6" width="1.8" height="2.9" fill="#1c2ee8"/>
<rect x="481.8" y="797.2" width="1" height="2.3" fill="#1c2ee8"/>
<rect x="489.1" y="795.4" width="1.2" height="4.1" fill="#1c2ee8"/>
<rect x="493.3" y="789.7" width="1.2" height="9.8" fill="#1c2ee8"/>
<rect x="494.6" y="796.7" width="1.2" height="2.8" fill="#1c2ee8"/>
<rect x="496.2" y="794.6" width="1.2" height="4.9" fill="#5670f0"/>
<rect x="498.8" y="797.2" width="1.5" height="2.3" fill="#1c2ee8"/>
<rect x="503.0" y="796.9" width="1" height="2.6" fill="#5670f0"/>
<rect x="505.0" y="793.9" width="1.8" height="5.6" fill="#1c2ee8"/>
<rect x="506.3" y="794.2" width="1.8" height="5.3" fill="#1c2ee8"/>
<rect x="508.6" y="797.0" width="1" height="2.5" fill="#1c2ee8"/>
<rect x="512.2" y="796.1" width="1.2" height="3.4" fill="#5670f0"/>
<rect x="513.5" y="793.3" width="1.5" height="6.2" fill="#5670f0"/>
<rect x="514.5" y="797.8" width="1.2" height="1.7" fill="#5670f0"/>
<rect x="515.8" y="797.5" width="1.2" height="2.0" fill="#1c2ee8"/>
<rect x="517.4" y="795.5" width="1.8" height="4.0" fill="#1c2ee8"/>
<rect x="518.7" y="797.5" width="1.2" height="2.0" fill="#94a4f6"/>
<rect x="520.3" y="797.9" width="1.8" height="1.6" fill="#94a4f6"/>
<rect x="524.8" y="795.2" width="1" height="4.3" fill="#5670f0"/>
<rect x="525.8" y="794.2" width="1.5" height="5.3" fill="#1c2ee8"/>
<rect x="526.8" y="793.3" width="1" height="6.2" fill="#1c2ee8"/>
<rect x="529.4" y="797.9" width="1.8" height="1.6" fill="#5670f0"/>
<rect x="541.0" y="796.8" width="1.5" height="2.7" fill="#1c2ee8"/>
<rect x="545.2" y="797.6" width="1.8" height="1.9" fill="#94a4f6"/>
<rect x="546.5" y="795.9" width="1.2" height="3.6" fill="#5670f0"/>
<rect x="547.5" y="797.7" width="1.2" height="1.8" fill="#5670f0"/>
<rect x="548.5" y="797.2" width="1" height="2.3" fill="#1c2ee8"/>
<rect x="554.1" y="797.9" width="1.8" height="1.6" fill="#5670f0"/>
<rect x="555.7" y="796.4" width="1" height="3.1" fill="#1c2ee8"/>
<rect x="563.3" y="797.1" width="1.8" height="2.4" fill="#5670f0"/>
<rect x="564.9" y="797.0" width="1" height="2.5" fill="#1c2ee8"/>
<rect x="567.8" y="792.8" width="1.8" height="6.7" fill="#1c2ee8"/>
<rect x="569.4" y="790.2" width="1.8" height="9.3" fill="#1c2ee8"/>
<rect x="134.3" y="775.7" width="1.4" height="23.8" fill="#5670f0"/>
<rect x="141.4" y="769.7" width="1.4" height="29.8" fill="#5670f0"/>
<rect x="142.9" y="782.8" width="1.6" height="16.7" fill="#1c2ee8"/>
<rect x="151.2" y="767.6" width="1.3" height="31.9" fill="#5670f0"/>
<rect x="155.4" y="780.7" width="1.6" height="18.8" fill="#1c2ee8"/>
<rect x="161.2" y="779.7" width="1.5" height="19.8" fill="#5670f0"/>
<rect x="170.2" y="780.7" width="2.2" height="18.8" fill="#94a4f6"/>
<rect x="177.1" y="779.7" width="1.5" height="19.8" fill="#5670f0"/>
<rect x="180.4" y="789.8" width="2" height="9.7" fill="#1c2ee8"/>
<rect x="196.8" y="789.8" width="1.3" height="9.7" fill="#5670f0"/>
<rect x="205.9" y="769.7" width="1.4" height="29.8" fill="#5670f0"/>
<rect x="208.9" y="785.8" width="1.4" height="13.7" fill="#5670f0"/>
<rect x="212.9" y="778.7" width="1.6" height="20.8" fill="#94a4f6"/>
<rect x="217.9" y="780.7" width="1.6" height="18.8" fill="#94a4f6"/>
<rect x="222.6" y="777.7" width="1.5" height="21.8" fill="#5670f0"/>
<rect x="225.5" y="760.2" width="1.3" height="39.3" fill="#5670f0"/>
<rect x="229.4" y="780.7" width="1.5" height="18.8" fill="#94a4f6"/>
<rect x="239.7" y="775.7" width="1.3" height="23.8" fill="#5670f0"/>
<rect x="239.0" y="788.8" width="2" height="10.7" fill="#1c2ee8"/>
<rect x="246.8" y="783.8" width="1.4" height="15.7" fill="#5670f0"/>
<rect x="252.9" y="780.7" width="1.3" height="18.8" fill="#5670f0"/>
<rect x="261.4" y="769.1" width="1.3" height="30.4" fill="#5670f0"/>
<rect x="274.1" y="784.4" width="1.4" height="15.1" fill="#5670f0"/>
<rect x="285.0" y="722.7" width="1.3" height="76.8" fill="#5670f0"/>
<rect x="309.3" y="782.8" width="1.4" height="16.7" fill="#5670f0"/>
<rect x="334.9" y="788.8" width="1.4" height="10.7" fill="#1c2ee8"/>
<rect x="342.0" y="782.8" width="1.4" height="16.7" fill="#5670f0"/>
<rect x="345.0" y="787.8" width="1.4" height="11.7" fill="#5670f0"/>
<rect x="368.9" y="762.1" width="1.5" height="37.4" fill="#5670f0"/>
<rect x="377.1" y="772.0" width="1.4" height="27.5" fill="#5670f0"/>
<rect x="383.3" y="784.1" width="1.4" height="15.4" fill="#1c2ee8"/>
<rect x="408.0" y="783.0" width="1.3" height="16.5" fill="#1c2ee8"/>
<rect x="476.4" y="789.5" width="1.2" height="10.0" fill="#5670f0"/>
<rect x="527.2" y="783.0" width="1.5" height="16.5" fill="#5670f0"/>
<rect x="543.6" y="787.5" width="1.5" height="12.0" fill="#1c2ee8"/>
<rect x="567.9" y="791.8" width="1.5" height="7.7" fill="#5670f0"/>
<rect x="342.7" y="783.0" width="1.3" height="16.5" fill="#5670f0"/>
<path d="M133.2 926.2 L133.6 818.7 L134.7 841.2 L136.4 863.2 L138.3 875.5 L139.5 877.5 L142.4 879.7 L146.5 882.4 L150.7 887.9 L154.8 890.7 L164.4 893.4 L175.4 895.6 L197.4 898.9 L224.8 903 L252.3 905.8 L279.8 907.7 L307.3 909.3 L334.7 910.4 L360 911.3 L435 913.6 L530 916 L566 917.9 L571 919 L573.5 921 L574.5 923.5 L574.5 926.2 Z" fill="#80d49e" stroke="#58c080" stroke-width="0.8"/>
<clipPath id="gc"><path d="M133.2 926.2 L133.6 818.7 L134.7 841.2 L136.4 863.2 L138.3 875.5 L139.5 877.5 L142.4 879.7 L146.5 882.4 L150.7 887.9 L154.8 890.7 L164.4 893.4 L175.4 895.6 L197.4 898.9 L224.8 903 L252.3 905.8 L279.8 907.7 L307.3 909.3 L334.7 910.4 L360 911.3 L435 913.6 L530 916 L566 917.9 L571 919 L573.5 921 L574.5 923.5 L574.5 926.2 Z"/></clipPath>
<path d="M135.00 810V927 M138.45 810V927 M141.90 810V927 M145.35 810V927 M148.80 810V927 M152.25 810V927 M155.70 810V927 M159.15 810V927 M162.60 810V927 M166.05 810V927 M169.50 810V927 M172.95 810V927 M176.40 810V927 M179.85 810V927 M183.30 810V927 M186.75 810V927 M190.20 810V927 M193.65 810V927 M197.10 810V927 M200.55 810V927 M204.00 810V927 M207.45 810V927 M210.90 810V927 M214.35 810V927 M217.80 810V927 M221.25 810V927 M224.70 810V927 M228.15 810V927 M231.60 810V927 M235.05 810V927 M238.50 810V927 M241.95 810V927 M245.40 810V927 M248.85 810V927 M252.30 810V927 M255.75 810V927 M259.20 810V927 M262.65 810V927 M266.10 810V927 M269.55 810V927 M273.00 810V927 M276.45 810V927 M279.90 810V927 M283.35 810V927 M286.80 810V927 M290.25 810V927 M293.70 810V927 M297.15 810V927 M300.60 810V927 M304.05 810V927 M307.50 810V927 M310.95 810V927 M314.40 810V927 M317.85 810V927 M321.30 810V927 M324.75 810V927 M328.20 810V927 M331.65 810V927 M335.10 810V927 M338.55 810V927 M342.00 810V927 M345.45 810V927 M348.90 810V927 M352.35 810V927 M355.80 810V927 M359.25 810V927 M362.70 810V927 M366.15 810V927 M369.60 810V927 M373.05 810V927 M376.50 810V927 M379.95 810V927 M383.40 810V927 M386.85 810V927 M390.30 810V927 M393.75 810V927 M397.20 810V927 M400.65 810V927 M404.10 810V927 M407.55 810V927 M411.00 810V927 M414.45 810V927 M417.90 810V927 M421.35 810V927 M424.80 810V927 M428.25 810V927 M431.70 810V927 M435.15 810V927 M438.60 810V927 M442.05 810V927 M445.50 810V927 M448.95 810V927 M452.40 810V927 M455.85 810V927 M459.30 810V927 M462.75 810V927 M466.20 810V927 M469.65 810V927 M473.10 810V927 M476.55 810V927 M480.00 810V927 M483.45 810V927 M486.90 810V927 M490.35 810V927 M493.80 810V927 M497.25 810V927 M500.70 810V927 M504.15 810V927 M507.60 810V927 M511.05 810V927 M514.50 810V927 M517.95 810V927 M521.40 810V927 M524.85 810V927 M528.30 810V927 M531.75 810V927 M535.20 810V927 M538.65 810V927 M542.10 810V927 M545.55 810V927 M549.00 810V927 M552.45 810V927 M555.90 810V927 M559.35 810V927 M562.80 810V927 M566.25 810V927 M569.70 810V927 M573.15 810V927" stroke="#5cc184" stroke-width="1" clip-path="url(#gc)" fill="none"/>
<polyline points="151.5,1087.1 185.8,1111.9 220.7,1078.9 254.5,1116.8 288,1106.9 319.6,1114 356.1,1099.5 390.4,1113.8 423.4,1122.3 459.1,1125 493.5,1116.5 525.6,1123.4 560.8,1123.1" fill="none" stroke="#f05a14" stroke-width="2" stroke-linejoin="round"/>
<polyline points="151.5,1008.8 186.4,1081.1 220.7,1119.3 253.7,1118.2 289.4,1118.2 322.4,1111.9 356.1,1112.1 390.4,1118.7 423.4,1122.9 459.1,1125.6 493.5,1128.4 525.6,1131.6 560.8,1130.5" fill="none" stroke="#ff2cff" stroke-width="2" stroke-linejoin="round"/>
<text x="106.2" y="1015.2" font-size="18" fill="#000" stroke="#000" stroke-width="0.43" text-anchor="start" textLength="21" lengthAdjust="spacingAndGlyphs" >8&gt;</text>
<text x="107.3" y="1157.2" font-size="18" fill="#000" stroke="#000" stroke-width="0.43" text-anchor="start" >0</text>
<polygon points="146.90,995.20 147.89,997.84 150.70,997.96 148.50,999.72 149.25,1002.44 146.90,1000.88 144.55,1002.44 145.30,999.72 143.10,997.96 145.91,997.84" fill="#000"/>
<polygon points="154.50,995.20 155.49,997.84 158.30,997.96 156.10,999.72 156.85,1002.44 154.50,1000.88 152.15,1002.44 152.90,999.72 150.70,997.96 153.51,997.84" fill="#000"/>
<polygon points="220.60,1064.60 221.59,1067.24 224.40,1067.36 222.20,1069.12 222.95,1071.84 220.60,1070.28 218.25,1071.84 219.00,1069.12 216.80,1067.36 219.61,1067.24" fill="#000"/>
<text x="437.1" y="1032.4" font-size="24.5" fill="#a6089f" stroke="#a6089f" stroke-width="0.59" text-anchor="start" textLength="123.7" lengthAdjust="spacingAndGlyphs" >5-Aza-CdR</text>
<text x="443.2" y="1061.3" font-size="24" fill="#d03c0a" stroke="#d03c0a" stroke-width="0.58" text-anchor="start" textLength="107" lengthAdjust="spacingAndGlyphs" >HMT KDs</text>
<text x="135.5" y="1185.5" font-size="20" fill="#000" stroke="#000" stroke-width="0.48" text-anchor="start" textLength="60" lengthAdjust="spacingAndGlyphs" >Young</text>
<text x="541" y="1186" font-size="20" fill="#000" stroke="#000" stroke-width="0.48" text-anchor="start" textLength="32.7" lengthAdjust="spacingAndGlyphs" >Old</text>
<text x="286.6" y="1221.8" font-size="20" fill="#000" stroke="#000" stroke-width="0.48" text-anchor="start" textLength="119" lengthAdjust="spacingAndGlyphs" >LTR families</text>
<text x="16.5" y="1176.4" font-size="20.4" fill="#000" stroke="#000" stroke-width="0.49" text-anchor="start" textLength="190.4" lengthAdjust="spacingAndGlyphs" transform="rotate(-90 16.5 1176.4)" >Normalized number</text>
<text x="40.9" y="1181" font-size="20.4" fill="#000" stroke="#000" stroke-width="0.49" text-anchor="start" textLength="198" lengthAdjust="spacingAndGlyphs" transform="rotate(-90 40.9 1181)" >of upregulated LTRs</text>
<text x="65.7" y="1159.5" font-size="20.4" fill="#000" stroke="#000" stroke-width="0.49" text-anchor="start" textLength="158.5" lengthAdjust="spacingAndGlyphs" transform="rotate(-90 65.7 1159.5)" >(window size 30)</text>
<polygon points="698.9,509.6 698.9,799.9 650.3,799.9" fill="#a3a3a3"/>
<text x="719.1" y="535.5" font-size="16.6" fill="#000" stroke="#000" stroke-width="0.4" text-anchor="start" textLength="52.8" lengthAdjust="spacingAndGlyphs" transform="rotate(-90 719.1 535.5)" >Young</text>
<text x="722.9" y="816.9" font-size="16.6" fill="#000" stroke="#000" stroke-width="0.4" text-anchor="start" textLength="28.8" lengthAdjust="spacingAndGlyphs" transform="rotate(-90 722.9 816.9)" >Old</text>
<text x="690.9" y="795.5" font-size="17.2" fill="#000" stroke="#000" stroke-width="0.41" text-anchor="start" textLength="144.8" lengthAdjust="spacingAndGlyphs" transform="rotate(-90 690.9 795.5)" >Evolutionary Age</text>
<text x="749.2" y="725.8" font-size="17.6" fill="#000" stroke="#000" stroke-width="0.42" text-anchor="start" textLength="137" lengthAdjust="spacingAndGlyphs" transform="rotate(-90 749.2 725.8)" >CpG density (%)</text>
<text x="872.6" y="521.8" font-size="20" fill="#000" stroke="#000" stroke-width="0.48" text-anchor="start" textLength="123.2" lengthAdjust="spacingAndGlyphs" >LTR Families</text>
<line x1="786.0" y1="525.8" x2="786.0" y2="801.7" stroke="#3a3a3a" stroke-width="1.6"/>
<line x1="785.1999999999999" y1="801.7" x2="1071.3" y2="801.7" stroke="#111" stroke-width="1.6"/>
<line x1="781.9" y1="801.7" x2="786.4" y2="801.7" stroke="#222" stroke-width="1.4"/>
<text x="774.2" y="803.6" font-size="13.7" fill="#000" stroke="#000" stroke-width="0.33" text-anchor="end" >0</text>
<line x1="781.9" y1="732.9000000000001" x2="786.4" y2="732.9000000000001" stroke="#222" stroke-width="1.4"/>
<text x="774.2" y="735.2" font-size="13.7" fill="#000" stroke="#000" stroke-width="0.33" text-anchor="end" >2</text>
<line x1="781.9" y1="664.1" x2="786.4" y2="664.1" stroke="#222" stroke-width="1.4"/>
<text x="774.2" y="666.8" font-size="13.7" fill="#000" stroke="#000" stroke-width="0.33" text-anchor="end" >4</text>
<line x1="781.9" y1="595.3000000000001" x2="786.4" y2="595.3000000000001" stroke="#222" stroke-width="1.4"/>
<text x="774.2" y="598.4" font-size="13.7" fill="#000" stroke="#000" stroke-width="0.33" text-anchor="end" >6</text>
<line x1="781.9" y1="526.5" x2="786.4" y2="526.5" stroke="#222" stroke-width="1.4"/>
<text x="774.2" y="530.0" font-size="13.7" fill="#000" stroke="#000" stroke-width="0.33" text-anchor="end" >8</text>
<line x1="786.4" y1="801.7" x2="786.4" y2="805.7" stroke="#111" stroke-width="1.4"/>
<text x="785.9" y="827.5" font-size="14.3" fill="#000" stroke="#000" stroke-width="0.34" text-anchor="middle" >0</text>
<line x1="843.24" y1="801.7" x2="843.24" y2="805.7" stroke="#111" stroke-width="1.4"/>
<text x="842.74" y="827.5" font-size="14.3" fill="#000" stroke="#000" stroke-width="0.34" text-anchor="middle" >0.2</text>
<line x1="900.0799999999999" y1="801.7" x2="900.0799999999999" y2="805.7" stroke="#111" stroke-width="1.4"/>
<text x="899.5799999999999" y="827.5" font-size="14.3" fill="#000" stroke="#000" stroke-width="0.34" text-anchor="middle" >0.4</text>
<line x1="956.92" y1="801.7" x2="956.92" y2="805.7" stroke="#111" stroke-width="1.4"/>
<text x="956.42" y="827.5" font-size="14.3" fill="#000" stroke="#000" stroke-width="0.34" text-anchor="middle" >0.6</text>
<line x1="1013.76" y1="801.7" x2="1013.76" y2="805.7" stroke="#111" stroke-width="1.4"/>
<text x="1013.26" y="827.5" font-size="14.3" fill="#000" stroke="#000" stroke-width="0.34" text-anchor="middle" >0.8</text>
<line x1="1070.6" y1="801.7" x2="1070.6" y2="805.7" stroke="#111" stroke-width="1.4"/>
<text x="1070.1" y="827.5" font-size="14.3" fill="#000" stroke="#000" stroke-width="0.34" text-anchor="middle" >1</text>
<text x="865.4" y="863" font-size="17.5" fill="#000" stroke="#000" stroke-width="0.42" text-anchor="start" textLength="141" lengthAdjust="spacingAndGlyphs" >DNAme (β value)</text>
<text x="1015" y="759.7" font-size="16" fill="#000" stroke="#000" stroke-width="0.38" text-anchor="start" textLength="64.8" lengthAdjust="spacingAndGlyphs" >R = 0.510</text>
<text x="1015" y="782.7" font-size="16" stroke="#000" stroke-width="0.38" textLength="71.2" lengthAdjust="spacingAndGlyphs"><tspan font-style="italic">p</tspan> &lt; 0.0001</text>
<circle cx="953.5" cy="771.9" r="2.7" fill="#1414ea"/>
<circle cx="969.9" cy="779.6" r="2.7" fill="#1414ea"/>
<circle cx="953.6" cy="785.2" r="2.7" fill="#1414ea"/>
<circle cx="952.8" cy="785.4" r="2.7" fill="#1414ea"/>
<circle cx="965.0" cy="757.7" r="2.7" fill="#1414ea"/>
<circle cx="963.2" cy="766.9" r="2.7" fill="#1414ea"/>
<circle cx="968.8" cy="786.8" r="2.7" fill="#1414ea"/>
<circle cx="973.1" cy="767.3" r="2.7" fill="#1414ea"/>
<circle cx="951.5" cy="772.9" r="2.7" fill="#1414ea"/>
<circle cx="964.3" cy="770.0" r="2.7" fill="#1414ea"/>
<circle cx="965.5" cy="775.6" r="2.7" fill="#1414ea"/>
<circle cx="965.1" cy="745.5" r="2.7" fill="#1414ea"/>
<circle cx="969.8" cy="784.3" r="2.7" fill="#1414ea"/>
<circle cx="967.5" cy="784.0" r="2.7" fill="#1414ea"/>
<circle cx="958.0" cy="783.9" r="2.7" fill="#1414ea"/>
<circle cx="968.9" cy="762.3" r="2.7" fill="#1414ea"/>
<circle cx="968.1" cy="779.7" r="2.7" fill="#1414ea"/>
<circle cx="976.0" cy="781.5" r="2.7" fill="#1414ea"/>
<circle cx="976.8" cy="776.9" r="2.7" fill="#1414ea"/>
<circle cx="984.2" cy="770.2" r="2.7" fill="#1414ea"/>
<circle cx="962.7" cy="780.0" r="2.7" fill="#1414ea"/>
<circle cx="975.0" cy="782.4" r="2.7" fill="#1414ea"/>
<circle cx="954.4" cy="781.5" r="2.7" fill="#1414ea"/>
<circle cx="967.3" cy="775.8" r="2.7" fill="#1414ea"/>
<circle cx="957.0" cy="785.0" r="2.7" fill="#1414ea"/>
<circle cx="966.6" cy="773.0" r="2.7" fill="#1414ea"/>
<circle cx="979.9" cy="754.9" r="2.7" fill="#1414ea"/>
<circle cx="968.4" cy="777.4" r="2.7" fill="#1414ea"/>
<circle cx="974.3" cy="767.8" r="2.7" fill="#1414ea"/>
<circle cx="989.7" cy="784.5" r="2.7" fill="#1414ea"/>
<circle cx="967.2" cy="777.4" r="2.7" fill="#1414ea"/>
<circle cx="981.9" cy="751.6" r="2.7" fill="#1414ea"/>
<circle cx="973.4" cy="784.2" r="2.7" fill="#1414ea"/>
<circle cx="980.6" cy="755.7" r="2.7" fill="#1414ea"/>
<circle cx="959.8" cy="788.1" r="2.7" fill="#1414ea"/>
<circle cx="960.6" cy="771.9" r="2.7" fill="#1414ea"/>
<circle cx="970.4" cy="760.7" r="2.7" fill="#1414ea"/>
<circle cx="974.8" cy="770.6" r="2.7" fill="#1414ea"/>
<circle cx="964.2" cy="787.8" r="2.7" fill="#1414ea"/>
<circle cx="958.1" cy="787.9" r="2.7" fill="#1414ea"/>
<circle cx="941.0" cy="776.9" r="2.7" fill="#1414ea"/>
<circle cx="949.6" cy="786.2" r="2.7" fill="#1414ea"/>
<circle cx="950.1" cy="778.3" r="2.7" fill="#1414ea"/>
<circle cx="982.8" cy="764.3" r="2.7" fill="#1414ea"/>
<circle cx="953.9" cy="765.9" r="2.7" fill="#1414ea"/>
<circle cx="953.8" cy="785.6" r="2.7" fill="#1414ea"/>
<circle cx="959.1" cy="754.8" r="2.7" fill="#1414ea"/>
<circle cx="964.7" cy="770.6" r="2.7" fill="#1414ea"/>
<circle cx="952.6" cy="785.6" r="2.7" fill="#1414ea"/>
<circle cx="979.6" cy="761.9" r="2.7" fill="#1414ea"/>
<circle cx="968.6" cy="751.1" r="2.7" fill="#1414ea"/>
<circle cx="948.7" cy="780.1" r="2.7" fill="#1414ea"/>
<circle cx="950.8" cy="782.4" r="2.7" fill="#1414ea"/>
<circle cx="978.5" cy="764.8" r="2.7" fill="#1414ea"/>
<circle cx="957.6" cy="777.2" r="2.7" fill="#1414ea"/>
<circle cx="976.3" cy="756.4" r="2.7" fill="#1414ea"/>
<circle cx="975.1" cy="744.5" r="2.7" fill="#1414ea"/>
<circle cx="965.0" cy="770.1" r="2.7" fill="#1414ea"/>
<circle cx="972.2" cy="777.9" r="2.7" fill="#1414ea"/>
<circle cx="957.6" cy="777.6" r="2.7" fill="#1414ea"/>
<circle cx="957.5" cy="757.7" r="2.7" fill="#1414ea"/>
<circle cx="959.4" cy="771.9" r="2.7" fill="#1414ea"/>
<circle cx="982.9" cy="747.7" r="2.7" fill="#1414ea"/>
<circle cx="955.8" cy="747.3" r="2.7" fill="#1414ea"/>
<circle cx="955.1" cy="761.2" r="2.7" fill="#1414ea"/>
<circle cx="959.7" cy="788.5" r="2.7" fill="#1414ea"/>
<circle cx="967.0" cy="750.6" r="2.7" fill="#1414ea"/>
<circle cx="964.7" cy="754.0" r="2.7" fill="#1414ea"/>
<circle cx="975.3" cy="754.4" r="2.7" fill="#1414ea"/>
<circle cx="951.8" cy="784.3" r="2.7" fill="#1414ea"/>
<circle cx="977.3" cy="752.1" r="2.7" fill="#1414ea"/>
<circle cx="975.3" cy="751.0" r="2.7" fill="#1414ea"/>
<circle cx="962.7" cy="760.1" r="2.7" fill="#1414ea"/>
<circle cx="947.4" cy="782.6" r="2.7" fill="#1414ea"/>
<circle cx="994.0" cy="748.7" r="2.7" fill="#1414ea"/>
<circle cx="962.6" cy="776.2" r="2.7" fill="#1414ea"/>
<circle cx="971.9" cy="783.6" r="2.7" fill="#1414ea"/>
<circle cx="958.6" cy="767.8" r="2.7" fill="#1414ea"/>
<circle cx="963.6" cy="775.4" r="2.7" fill="#1414ea"/>
<circle cx="966.2" cy="782.0" r="2.7" fill="#1414ea"/>
<circle cx="949.7" cy="747.2" r="2.7" fill="#1414ea"/>
<circle cx="964.3" cy="779.3" r="2.7" fill="#1414ea"/>
<circle cx="961.9" cy="760.7" r="2.7" fill="#1414ea"/>
<circle cx="975.3" cy="777.4" r="2.7" fill="#1414ea"/>
<circle cx="978.2" cy="756.0" r="2.7" fill="#1414ea"/>
<circle cx="963.6" cy="766.4" r="2.7" fill="#1414ea"/>
<circle cx="964.1" cy="772.6" r="2.7" fill="#1414ea"/>
<circle cx="964.5" cy="764.4" r="2.7" fill="#1414ea"/>
<circle cx="964.6" cy="765.7" r="2.7" fill="#1414ea"/>
<circle cx="962.5" cy="778.0" r="2.7" fill="#1414ea"/>
<circle cx="973.8" cy="765.0" r="2.7" fill="#1414ea"/>
<circle cx="971.1" cy="779.0" r="2.7" fill="#1414ea"/>
<circle cx="979.3" cy="744.0" r="2.7" fill="#1414ea"/>
<circle cx="957.3" cy="784.4" r="2.7" fill="#1414ea"/>
<circle cx="977.2" cy="781.0" r="2.7" fill="#1414ea"/>
<circle cx="966.0" cy="765.5" r="2.7" fill="#1414ea"/>
<circle cx="972.8" cy="770.7" r="2.7" fill="#1414ea"/>
<circle cx="960.1" cy="780.7" r="2.7" fill="#1414ea"/>
<circle cx="964.9" cy="759.0" r="2.7" fill="#1414ea"/>
<circle cx="954.7" cy="778.4" r="2.7" fill="#1414ea"/>
<circle cx="973.3" cy="776.6" r="2.7" fill="#1414ea"/>
<circle cx="971.3" cy="769.9" r="2.7" fill="#1414ea"/>
<circle cx="956.7" cy="788.1" r="2.7" fill="#1414ea"/>
<circle cx="956.7" cy="770.7" r="2.7" fill="#1414ea"/>
<circle cx="945.5" cy="774.9" r="2.7" fill="#1414ea"/>
<circle cx="967.5" cy="763.6" r="2.7" fill="#1414ea"/>
<circle cx="969.6" cy="761.3" r="2.7" fill="#1414ea"/>
<circle cx="972.3" cy="784.6" r="2.7" fill="#1414ea"/>
<circle cx="949.1" cy="779.3" r="2.7" fill="#1414ea"/>
<circle cx="970.1" cy="764.5" r="2.7" fill="#1414ea"/>
<circle cx="964.7" cy="753.6" r="2.7" fill="#1414ea"/>
<circle cx="965.0" cy="780.6" r="2.7" fill="#1414ea"/>
<circle cx="965.3" cy="780.1" r="2.7" fill="#1414ea"/>
<circle cx="955.6" cy="770.9" r="2.7" fill="#1414ea"/>
<circle cx="954.6" cy="765.3" r="2.7" fill="#1414ea"/>
<circle cx="956.2" cy="779.8" r="2.7" fill="#1414ea"/>
<circle cx="958.9" cy="753.2" r="2.7" fill="#1414ea"/>
<circle cx="956.4" cy="759.6" r="2.7" fill="#1414ea"/>
<circle cx="967.0" cy="774.1" r="2.7" fill="#1414ea"/>
<circle cx="955.6" cy="788.6" r="2.7" fill="#1414ea"/>
<circle cx="956.8" cy="780.5" r="2.7" fill="#1414ea"/>
<circle cx="955.1" cy="762.6" r="2.7" fill="#1414ea"/>
<circle cx="958.9" cy="768.6" r="2.7" fill="#1414ea"/>
<circle cx="954.8" cy="760.1" r="2.7" fill="#1414ea"/>
<circle cx="968.2" cy="758.8" r="2.7" fill="#1414ea"/>
<circle cx="965.7" cy="777.7" r="2.7" fill="#1414ea"/>
<circle cx="972.4" cy="770.8" r="2.7" fill="#1414ea"/>
<circle cx="968.1" cy="777.4" r="2.7" fill="#1414ea"/>
<circle cx="954.4" cy="767.2" r="2.7" fill="#1414ea"/>
<circle cx="962.2" cy="786.4" r="2.7" fill="#1414ea"/>
<circle cx="972.2" cy="779.8" r="2.7" fill="#1414ea"/>
<circle cx="975.8" cy="754.4" r="2.7" fill="#1414ea"/>
<circle cx="976.1" cy="760.7" r="2.7" fill="#1414ea"/>
<circle cx="962.4" cy="774.5" r="2.7" fill="#1414ea"/>
<circle cx="958.6" cy="778.4" r="2.7" fill="#1414ea"/>
<circle cx="955.2" cy="780.4" r="2.7" fill="#1414ea"/>
<circle cx="975.5" cy="768.9" r="2.7" fill="#1414ea"/>
<circle cx="980.3" cy="783.1" r="2.7" fill="#1414ea"/>
<circle cx="955.5" cy="770.4" r="2.7" fill="#1414ea"/>
<circle cx="971.0" cy="746.4" r="2.7" fill="#1414ea"/>
<circle cx="984.7" cy="749.0" r="2.7" fill="#1414ea"/>
<circle cx="963.5" cy="760.9" r="2.7" fill="#1414ea"/>
<circle cx="967.0" cy="765.2" r="2.7" fill="#1414ea"/>
<circle cx="969.2" cy="768.8" r="2.7" fill="#1414ea"/>
<circle cx="958.3" cy="766.2" r="2.7" fill="#1414ea"/>
<circle cx="965.6" cy="783.1" r="2.7" fill="#1414ea"/>
<circle cx="969.1" cy="772.7" r="2.7" fill="#1414ea"/>
<circle cx="952.0" cy="763.0" r="2.7" fill="#1414ea"/>
<circle cx="953.9" cy="780.5" r="2.7" fill="#1414ea"/>
<circle cx="969.5" cy="776.2" r="2.7" fill="#1414ea"/>
<circle cx="966.9" cy="759.0" r="2.7" fill="#1414ea"/>
<circle cx="962.2" cy="784.6" r="2.7" fill="#1414ea"/>
<circle cx="965.0" cy="764.9" r="2.7" fill="#1414ea"/>
<circle cx="957.9" cy="780.9" r="2.7" fill="#1414ea"/>
<circle cx="968.3" cy="770.0" r="2.7" fill="#1414ea"/>
<circle cx="969.6" cy="754.7" r="2.7" fill="#1414ea"/>
<circle cx="956.9" cy="777.5" r="2.7" fill="#1414ea"/>
<circle cx="965.5" cy="770.9" r="2.7" fill="#1414ea"/>
<circle cx="943.0" cy="786.1" r="2.7" fill="#1414ea"/>
<circle cx="969.8" cy="761.6" r="2.7" fill="#1414ea"/>
<circle cx="968.0" cy="752.8" r="2.7" fill="#1414ea"/>
<circle cx="966.7" cy="779.1" r="2.7" fill="#1414ea"/>
<circle cx="962.0" cy="784.8" r="2.7" fill="#1414ea"/>
<circle cx="963.6" cy="777.3" r="2.7" fill="#1414ea"/>
<circle cx="950.5" cy="778.1" r="2.7" fill="#1414ea"/>
<circle cx="962.6" cy="754.3" r="2.7" fill="#1414ea"/>
<circle cx="975.4" cy="772.5" r="2.7" fill="#1414ea"/>
<circle cx="960.3" cy="779.2" r="2.7" fill="#1414ea"/>
<circle cx="959.6" cy="774.3" r="2.7" fill="#1414ea"/>
<circle cx="973.3" cy="778.5" r="2.7" fill="#1414ea"/>
<circle cx="953.8" cy="782.6" r="2.7" fill="#1414ea"/>
<circle cx="972.1" cy="787.1" r="2.7" fill="#1414ea"/>
<circle cx="960.4" cy="767.4" r="2.7" fill="#1414ea"/>
<circle cx="980.5" cy="756.7" r="2.7" fill="#1414ea"/>
<circle cx="962.9" cy="784.6" r="2.7" fill="#1414ea"/>
<circle cx="964.2" cy="784.4" r="2.7" fill="#1414ea"/>
<circle cx="944.2" cy="784.8" r="2.7" fill="#1414ea"/>
<circle cx="961.5" cy="779.9" r="2.7" fill="#1414ea"/>
<circle cx="959.8" cy="768.8" r="2.7" fill="#1414ea"/>
<circle cx="958.7" cy="770.5" r="2.7" fill="#1414ea"/>
<circle cx="971.7" cy="746.0" r="2.7" fill="#1414ea"/>
<circle cx="976.8" cy="760.5" r="2.7" fill="#1414ea"/>
<circle cx="947.5" cy="754.8" r="2.7" fill="#1414ea"/>
<circle cx="961.0" cy="752.0" r="2.7" fill="#1414ea"/>
<circle cx="968.8" cy="772.1" r="2.7" fill="#1414ea"/>
<circle cx="969.1" cy="775.5" r="2.7" fill="#1414ea"/>
<circle cx="976.3" cy="784.4" r="2.7" fill="#1414ea"/>
<circle cx="977.1" cy="784.1" r="2.7" fill="#1414ea"/>
<circle cx="975.8" cy="756.7" r="2.7" fill="#1414ea"/>
<circle cx="970.8" cy="779.4" r="2.7" fill="#1414ea"/>
<circle cx="967.1" cy="778.2" r="2.7" fill="#1414ea"/>
<circle cx="960.0" cy="781.4" r="2.7" fill="#1414ea"/>
<circle cx="961.9" cy="781.5" r="2.7" fill="#1414ea"/>
<circle cx="978.0" cy="774.4" r="2.7" fill="#1414ea"/>
<circle cx="974.1" cy="760.4" r="2.7" fill="#1414ea"/>
<circle cx="961.2" cy="770.0" r="2.7" fill="#1414ea"/>
<circle cx="973.6" cy="761.9" r="2.7" fill="#1414ea"/>
<circle cx="961.2" cy="759.7" r="2.7" fill="#1414ea"/>
<circle cx="953.4" cy="760.0" r="2.7" fill="#1414ea"/>
<circle cx="979.2" cy="778.9" r="2.7" fill="#1414ea"/>
<circle cx="962.6" cy="760.5" r="2.7" fill="#1414ea"/>
<circle cx="973.2" cy="775.5" r="2.7" fill="#1414ea"/>
<circle cx="976.3" cy="789.4" r="2.7" fill="#1414ea"/>
<circle cx="973.1" cy="765.1" r="2.7" fill="#1414ea"/>
<circle cx="969.9" cy="762.9" r="2.7" fill="#1414ea"/>
<circle cx="963.8" cy="781.7" r="2.7" fill="#1414ea"/>
<circle cx="962.7" cy="784.9" r="2.7" fill="#1414ea"/>
<circle cx="974.2" cy="765.3" r="2.7" fill="#1414ea"/>
<circle cx="956.1" cy="784.5" r="2.7" fill="#1414ea"/>
<circle cx="978.0" cy="763.9" r="2.7" fill="#1414ea"/>
<circle cx="973.2" cy="787.9" r="2.7" fill="#1414ea"/>
<circle cx="952.9" cy="760.5" r="2.7" fill="#1414ea"/>
<circle cx="955.6" cy="788.7" r="2.7" fill="#1414ea"/>
<circle cx="961.6" cy="762.5" r="2.7" fill="#1414ea"/>
<circle cx="956.9" cy="778.4" r="2.7" fill="#1414ea"/>
<circle cx="975.0" cy="769.0" r="2.7" fill="#1414ea"/>
<circle cx="965.7" cy="749.5" r="2.7" fill="#1414ea"/>
<circle cx="972.8" cy="744.7" r="2.7" fill="#1414ea"/>
<circle cx="968.1" cy="781.6" r="2.7" fill="#1414ea"/>
<circle cx="962.0" cy="757.6" r="2.7" fill="#1414ea"/>
<circle cx="975.4" cy="782.8" r="2.7" fill="#1414ea"/>
<circle cx="968.9" cy="770.6" r="2.7" fill="#1414ea"/>
<circle cx="970.4" cy="764.5" r="2.7" fill="#1414ea"/>
<circle cx="968.0" cy="771.9" r="2.7" fill="#1414ea"/>
<circle cx="947.1" cy="777.3" r="2.7" fill="#1414ea"/>
<circle cx="953.1" cy="764.1" r="2.7" fill="#1414ea"/>
<circle cx="975.3" cy="787.3" r="2.7" fill="#1414ea"/>
<circle cx="957.9" cy="784.3" r="2.7" fill="#1414ea"/>
<circle cx="978.4" cy="760.6" r="2.7" fill="#1414ea"/>
<circle cx="972.4" cy="780.2" r="2.7" fill="#1414ea"/>
<circle cx="953.5" cy="777.5" r="2.7" fill="#1414ea"/>
<circle cx="978.6" cy="777.2" r="2.7" fill="#1414ea"/>
<circle cx="961.3" cy="784.8" r="2.7" fill="#1414ea"/>
<circle cx="961.1" cy="765.2" r="2.7" fill="#1414ea"/>
<circle cx="954.8" cy="776.9" r="2.7" fill="#1414ea"/>
<circle cx="986.7" cy="779.2" r="2.7" fill="#1414ea"/>
<circle cx="980.6" cy="756.9" r="2.7" fill="#1414ea"/>
<circle cx="982.7" cy="754.3" r="2.7" fill="#1414ea"/>
<circle cx="948.8" cy="784.8" r="2.7" fill="#1414ea"/>
<circle cx="960.8" cy="779.4" r="2.7" fill="#1414ea"/>
<circle cx="987.2" cy="752.4" r="2.7" fill="#1414ea"/>
<circle cx="972.3" cy="752.5" r="2.7" fill="#1414ea"/>
<circle cx="967.3" cy="754.7" r="2.7" fill="#1414ea"/>
<circle cx="955.9" cy="781.6" r="2.7" fill="#1414ea"/>
<circle cx="975.3" cy="780.3" r="2.7" fill="#1414ea"/>
<circle cx="960.3" cy="768.6" r="2.7" fill="#1414ea"/>
<circle cx="963.3" cy="764.6" r="2.7" fill="#1414ea"/>
<circle cx="964.2" cy="756.7" r="2.7" fill="#1414ea"/>
<circle cx="963.8" cy="769.6" r="2.7" fill="#1414ea"/>
<circle cx="954.9" cy="754.6" r="2.7" fill="#1414ea"/>
<circle cx="955.0" cy="772.2" r="2.7" fill="#1414ea"/>
<circle cx="976.6" cy="767.5" r="2.7" fill="#1414ea"/>
<circle cx="948.9" cy="771.1" r="2.7" fill="#1414ea"/>
<circle cx="953.7" cy="774.7" r="2.7" fill="#1414ea"/>
<circle cx="964.0" cy="775.8" r="2.7" fill="#1414ea"/>
<circle cx="962.7" cy="751.8" r="2.7" fill="#1414ea"/>
<circle cx="944.3" cy="762.2" r="2.7" fill="#1414ea"/>
<circle cx="962.8" cy="783.1" r="2.7" fill="#1414ea"/>
<circle cx="963.9" cy="768.0" r="2.7" fill="#1414ea"/>
<circle cx="980.9" cy="758.0" r="2.7" fill="#1414ea"/>
<circle cx="971.1" cy="774.3" r="2.7" fill="#1414ea"/>
<circle cx="969.9" cy="753.5" r="2.7" fill="#1414ea"/>
<circle cx="949.7" cy="782.0" r="2.7" fill="#1414ea"/>
<circle cx="974.8" cy="758.6" r="2.7" fill="#1414ea"/>
<circle cx="980.8" cy="780.3" r="2.7" fill="#1414ea"/>
<circle cx="976.5" cy="775.5" r="2.7" fill="#1414ea"/>
<circle cx="969.3" cy="770.9" r="2.7" fill="#1414ea"/>
<circle cx="963.3" cy="787.0" r="2.7" fill="#1414ea"/>
<circle cx="964.4" cy="776.1" r="2.7" fill="#1414ea"/>
<circle cx="991.8" cy="755.8" r="2.7" fill="#1414ea"/>
<circle cx="954.7" cy="779.0" r="2.7" fill="#1414ea"/>
<circle cx="971.4" cy="766.3" r="2.7" fill="#1414ea"/>
<circle cx="970.3" cy="779.2" r="2.7" fill="#1414ea"/>
<circle cx="979.8" cy="784.6" r="2.7" fill="#1414ea"/>
<circle cx="957.3" cy="757.5" r="2.7" fill="#1414ea"/>
<circle cx="958.0" cy="772.8" r="2.7" fill="#1414ea"/>
<circle cx="943.3" cy="783.0" r="2.7" fill="#1414ea"/>
<circle cx="964.4" cy="780.8" r="2.7" fill="#1414ea"/>
<circle cx="959.5" cy="760.2" r="2.7" fill="#1414ea"/>
<circle cx="955.5" cy="780.8" r="2.7" fill="#1414ea"/>
<circle cx="976.8" cy="774.0" r="2.7" fill="#1414ea"/>
<circle cx="990.7" cy="758.8" r="2.7" fill="#1414ea"/>
<circle cx="981.7" cy="757.3" r="2.7" fill="#1414ea"/>
<circle cx="959.2" cy="779.4" r="2.7" fill="#1414ea"/>
<circle cx="961.1" cy="784.7" r="2.7" fill="#1414ea"/>
<circle cx="966.3" cy="776.7" r="2.7" fill="#1414ea"/>
<circle cx="958.3" cy="781.6" r="2.7" fill="#1414ea"/>
<circle cx="968.7" cy="768.0" r="2.7" fill="#1414ea"/>
<circle cx="965.8" cy="772.7" r="2.7" fill="#1414ea"/>
<circle cx="959.6" cy="767.1" r="2.7" fill="#1414ea"/>
<circle cx="966.0" cy="773.7" r="2.7" fill="#1414ea"/>
<circle cx="968.6" cy="765.7" r="2.7" fill="#1414ea"/>
<circle cx="953.9" cy="761.9" r="2.7" fill="#1414ea"/>
<circle cx="972.0" cy="757.0" r="2.7" fill="#1414ea"/>
<circle cx="964.1" cy="770.9" r="2.7" fill="#1414ea"/>
<circle cx="970.1" cy="777.5" r="2.7" fill="#1414ea"/>
<circle cx="948.4" cy="782.3" r="2.7" fill="#1414ea"/>
<circle cx="963.3" cy="762.9" r="2.7" fill="#1414ea"/>
<circle cx="966.0" cy="763.0" r="2.7" fill="#1414ea"/>
<circle cx="968.5" cy="787.6" r="2.7" fill="#1414ea"/>
<circle cx="971.3" cy="768.3" r="2.7" fill="#1414ea"/>
<circle cx="964.5" cy="784.9" r="2.7" fill="#1414ea"/>
<circle cx="984.3" cy="752.5" r="2.7" fill="#1414ea"/>
<circle cx="968.0" cy="781.5" r="2.7" fill="#1414ea"/>
<circle cx="958.7" cy="786.7" r="2.7" fill="#1414ea"/>
<circle cx="957.0" cy="779.4" r="2.7" fill="#1414ea"/>
<circle cx="957.4" cy="785.0" r="2.7" fill="#1414ea"/>
<circle cx="969.7" cy="780.6" r="2.7" fill="#1414ea"/>
<circle cx="975.8" cy="770.1" r="2.7" fill="#1414ea"/>
<circle cx="970.0" cy="766.0" r="2.7" fill="#1414ea"/>
<circle cx="971.7" cy="767.1" r="2.7" fill="#1414ea"/>
<circle cx="965.5" cy="786.4" r="2.7" fill="#1414ea"/>
<circle cx="970.4" cy="770.7" r="2.7" fill="#1414ea"/>
<circle cx="962.4" cy="772.2" r="2.7" fill="#1414ea"/>
<circle cx="973.3" cy="777.0" r="2.7" fill="#1414ea"/>
<circle cx="958.8" cy="771.9" r="2.7" fill="#1414ea"/>
<circle cx="963.6" cy="774.2" r="2.7" fill="#1414ea"/>
<circle cx="980.0" cy="785.3" r="2.7" fill="#1414ea"/>
<circle cx="964.4" cy="758.4" r="2.7" fill="#1414ea"/>
<circle cx="957.3" cy="775.0" r="2.7" fill="#1414ea"/>
<circle cx="979.1" cy="768.0" r="2.7" fill="#1414ea"/>
<circle cx="968.1" cy="780.0" r="2.7" fill="#1414ea"/>
<circle cx="975.2" cy="779.4" r="2.7" fill="#1414ea"/>
<circle cx="968.6" cy="775.0" r="2.7" fill="#1414ea"/>
<circle cx="977.2" cy="768.6" r="2.7" fill="#1414ea"/>
<circle cx="962.5" cy="781.1" r="2.7" fill="#1414ea"/>
<circle cx="957.0" cy="775.2" r="2.7" fill="#1414ea"/>
<circle cx="964.3" cy="774.1" r="2.7" fill="#1414ea"/>
<circle cx="958.1" cy="751.3" r="2.7" fill="#1414ea"/>
<circle cx="967.7" cy="774.7" r="2.7" fill="#1414ea"/>
<circle cx="975.0" cy="741.0" r="2.7" fill="#1414ea"/>
<circle cx="981.0" cy="745.0" r="2.7" fill="#1414ea"/>
<circle cx="985.0" cy="749.0" r="2.7" fill="#1414ea"/>
<circle cx="990.0" cy="752.0" r="2.7" fill="#1414ea"/>
<circle cx="986.0" cy="757.0" r="2.7" fill="#1414ea"/>
<circle cx="978.0" cy="750.0" r="2.7" fill="#1414ea"/>
<circle cx="992.0" cy="761.0" r="2.7" fill="#1414ea"/>
<circle cx="944.0" cy="758.0" r="2.7" fill="#1414ea"/>
<circle cx="941.0" cy="764.0" r="2.7" fill="#1414ea"/>
<circle cx="947.0" cy="770.0" r="2.7" fill="#1414ea"/>
<circle cx="938.0" cy="772.0" r="2.7" fill="#1414ea"/>
<circle cx="983.0" cy="741.0" r="2.7" fill="#1414ea"/>
<circle cx="972.0" cy="746.0" r="2.7" fill="#1414ea"/>
<circle cx="1038.0" cy="570.8" r="2.7" fill="#1414ea"/>
<circle cx="1005.0" cy="630.0" r="2.7" fill="#1414ea"/>
<circle cx="1013.8" cy="633.0" r="2.7" fill="#1414ea"/>
<circle cx="990.8" cy="639.2" r="2.7" fill="#1414ea"/>
<circle cx="1010.2" cy="670.0" r="2.7" fill="#1414ea"/>
<circle cx="1036.5" cy="688.0" r="2.7" fill="#1414ea"/>
<circle cx="1004.2" cy="697.5" r="2.7" fill="#1414ea"/>
<circle cx="1000.8" cy="703.8" r="2.7" fill="#1414ea"/>
<circle cx="963.0" cy="720.0" r="2.7" fill="#1414ea"/>
<circle cx="956.2" cy="726.8" r="2.7" fill="#1414ea"/>
<circle cx="988.8" cy="720.0" r="2.7" fill="#1414ea"/>
<circle cx="982.0" cy="728.0" r="2.7" fill="#1414ea"/>
<circle cx="993.0" cy="727.5" r="2.7" fill="#1414ea"/>
<circle cx="1000.0" cy="728.0" r="2.7" fill="#1414ea"/>
<circle cx="1005.0" cy="734.5" r="2.7" fill="#1414ea"/>
<circle cx="999.5" cy="738.8" r="2.7" fill="#1414ea"/>
<circle cx="987.0" cy="737.5" r="2.7" fill="#1414ea"/>
<circle cx="1027.5" cy="739.5" r="2.7" fill="#1414ea"/>
<circle cx="1006.2" cy="757.5" r="2.7" fill="#1414ea"/>
<circle cx="915.0" cy="768.2" r="2.7" fill="#1414ea"/>
<circle cx="990.8" cy="780.5" r="2.7" fill="#1414ea"/>
<circle cx="1000.0" cy="795.8" r="2.7" fill="#1414ea"/>
<circle cx="933.8" cy="779.2" r="2.7" fill="#1414ea"/>
<circle cx="937.5" cy="774.2" r="2.7" fill="#1414ea"/>
<circle cx="847.0" cy="793.3" r="2.7" fill="#1414ea"/>
<polyline points="847.5,796.2 850.3,796.0 853.2,795.7 856.0,795.5 858.9,795.2 861.7,794.9 864.6,794.7 867.4,794.4 870.2,794.1 873.1,793.7 875.9,793.4 878.8,793.1 881.6,792.7 884.4,792.3 887.3,791.9 890.1,791.5 893.0,791.1 895.8,790.7 898.7,790.2 901.5,789.7 904.3,789.2 907.2,788.7 910.0,788.1 912.9,787.6 915.7,787.0 918.6,786.4 921.4,785.7 924.2,785.1 927.1,784.4 929.9,783.6 932.8,782.9 935.6,782.1 938.4,781.3 941.3,780.4 944.1,779.5 947.0,778.6 949.8,777.6 952.7,776.6 955.5,775.6 958.3,774.5 961.2,773.4 964.0,772.2 966.9,770.9 969.7,769.7 972.6,768.3 975.4,766.9 978.2,765.5 981.1,764.0 983.9,762.4 986.8,760.7 989.6,759.0 992.4,757.2 995.3,755.4 998.1,753.4 1001.0,751.4 1003.8,749.3 1006.7,747.1 1009.5,744.8 1012.3,742.5 1015.2,740.0 1018.0,737.4 1020.9,734.7 1023.7,731.9 1026.5,729.0 1029.4,726.0 1032.2,722.8 1035.1,719.5 1037.9,716.0" fill="none" stroke="#000" stroke-width="1.8"/>
<polygon points="694.2,909.6 694.2,1198.5 646.8,1198.5" fill="#a3a3a3"/>
<text x="718.5" y="933.7" font-size="16.6" fill="#000" stroke="#000" stroke-width="0.4" text-anchor="start" textLength="52.8" lengthAdjust="spacingAndGlyphs" transform="rotate(-90 718.5 933.7)" >Young</text>
<text x="722.4" y="1215" font-size="16.6" fill="#000" stroke="#000" stroke-width="0.4" text-anchor="start" textLength="28.5" lengthAdjust="spacingAndGlyphs" transform="rotate(-90 722.4 1215)" >Old</text>
<text x="686.2" y="1194.5" font-size="17.2" fill="#000" stroke="#000" stroke-width="0.41" text-anchor="start" textLength="144.8" lengthAdjust="spacingAndGlyphs" transform="rotate(-90 686.2 1194.5)" >Evolutionary Age</text>
<text x="749.5" y="1128.8" font-size="17.6" fill="#000" stroke="#000" stroke-width="0.42" text-anchor="start" textLength="135.7" lengthAdjust="spacingAndGlyphs" transform="rotate(-90 749.5 1128.8)" >CpG density (%)</text>
<text x="875.8" y="924.8" font-size="20" fill="#000" stroke="#000" stroke-width="0.48" text-anchor="start" textLength="123.6" lengthAdjust="spacingAndGlyphs" >LTR Families</text>
<line x1="786.0" y1="928.95" x2="786.0" y2="1204.45" stroke="#3a3a3a" stroke-width="1.6"/>
<line x1="785.1999999999999" y1="1204.45" x2="1077.7749999999999" y2="1204.45" stroke="#111" stroke-width="1.6"/>
<line x1="781.9" y1="1204.45" x2="786.4" y2="1204.45" stroke="#222" stroke-width="1.4"/>
<text x="773.9" y="1209.65" font-size="14" fill="#000" stroke="#000" stroke-width="0.34" text-anchor="end" >0</text>
<line x1="781.9" y1="1135.75" x2="786.4" y2="1135.75" stroke="#222" stroke-width="1.4"/>
<text x="773.9" y="1140.95" font-size="14" fill="#000" stroke="#000" stroke-width="0.34" text-anchor="end" >2</text>
<line x1="781.9" y1="1067.05" x2="786.4" y2="1067.05" stroke="#222" stroke-width="1.4"/>
<text x="773.9" y="1072.25" font-size="14" fill="#000" stroke="#000" stroke-width="0.34" text-anchor="end" >4</text>
<line x1="781.9" y1="998.35" x2="786.4" y2="998.35" stroke="#222" stroke-width="1.4"/>
<text x="773.9" y="1003.5500000000001" font-size="14" fill="#000" stroke="#000" stroke-width="0.34" text-anchor="end" >6</text>
<line x1="781.9" y1="929.6500000000001" x2="786.4" y2="929.6500000000001" stroke="#222" stroke-width="1.4"/>
<text x="773.9" y="934.8500000000001" font-size="14" fill="#000" stroke="#000" stroke-width="0.34" text-anchor="end" >8</text>
<line x1="785.6999999999999" y1="1204.45" x2="785.6999999999999" y2="1209.25" stroke="#111" stroke-width="1.4"/>
<text x="785.0999999999999" y="1230.2" font-size="15" fill="#000" stroke="#000" stroke-width="0.36" text-anchor="middle" >-0.65</text>
<line x1="827.3249999999999" y1="1204.45" x2="827.3249999999999" y2="1209.25" stroke="#111" stroke-width="1.4"/>
<text x="826.7249999999999" y="1230.2" font-size="15" fill="#000" stroke="#000" stroke-width="0.36" text-anchor="middle" >-0.6</text>
<line x1="868.9499999999999" y1="1204.45" x2="868.9499999999999" y2="1209.25" stroke="#111" stroke-width="1.4"/>
<text x="868.3499999999999" y="1230.2" font-size="15" fill="#000" stroke="#000" stroke-width="0.36" text-anchor="middle" >-0.55</text>
<line x1="910.5749999999999" y1="1204.45" x2="910.5749999999999" y2="1209.25" stroke="#111" stroke-width="1.4"/>
<text x="909.9749999999999" y="1230.2" font-size="15" fill="#000" stroke="#000" stroke-width="0.36" text-anchor="middle" >-0.5</text>
<line x1="952.1999999999999" y1="1204.45" x2="952.1999999999999" y2="1209.25" stroke="#111" stroke-width="1.4"/>
<text x="951.5999999999999" y="1230.2" font-size="15" fill="#000" stroke="#000" stroke-width="0.36" text-anchor="middle" >-0.45</text>
<line x1="993.8249999999999" y1="1204.45" x2="993.8249999999999" y2="1209.25" stroke="#111" stroke-width="1.4"/>
<text x="993.2249999999999" y="1230.2" font-size="15" fill="#000" stroke="#000" stroke-width="0.36" text-anchor="middle" >-0.4</text>
<line x1="1035.45" y1="1204.45" x2="1035.45" y2="1209.25" stroke="#111" stroke-width="1.4"/>
<text x="1034.8500000000001" y="1230.2" font-size="15" fill="#000" stroke="#000" stroke-width="0.36" text-anchor="middle" >-0.35</text>
<line x1="1077.0749999999998" y1="1204.45" x2="1077.0749999999998" y2="1209.25" stroke="#111" stroke-width="1.4"/>
<text x="1076.475" y="1230.2" font-size="15" fill="#000" stroke="#000" stroke-width="0.36" text-anchor="middle" >-0.3</text>
<text x="898.8" y="1253.5" font-size="18" fill="#000" stroke="#000" stroke-width="0.43" text-anchor="start" textLength="63.5" lengthAdjust="spacingAndGlyphs" >Z-score</text>
<text x="874.6" y="1273" font-size="18" fill="#000" stroke="#000" stroke-width="0.43" text-anchor="start" textLength="113" lengthAdjust="spacingAndGlyphs" >(IP H3K9me3)</text>
<text x="998.8" y="1107.8" font-size="16" fill="#000" stroke="#000" stroke-width="0.38" text-anchor="start" textLength="65.2" lengthAdjust="spacingAndGlyphs" >R = 0.555</text>
<text x="998.8" y="1131" font-size="16" stroke="#000" stroke-width="0.38" textLength="71.4" lengthAdjust="spacingAndGlyphs"><tspan font-style="italic">p</tspan> &lt; 0.0001</text>
<circle cx="870.2" cy="1144.3" r="2.7" fill="#1414ea"/>
<circle cx="871.0" cy="1151.6" r="2.7" fill="#1414ea"/>
<circle cx="929.0" cy="1182.6" r="2.7" fill="#1414ea"/>
<circle cx="905.8" cy="1175.4" r="2.7" fill="#1414ea"/>
<circle cx="918.6" cy="1184.7" r="2.7" fill="#1414ea"/>
<circle cx="902.1" cy="1171.5" r="2.7" fill="#1414ea"/>
<circle cx="952.9" cy="1190.8" r="2.7" fill="#1414ea"/>
<circle cx="901.2" cy="1181.2" r="2.7" fill="#1414ea"/>
<circle cx="862.9" cy="1174.5" r="2.7" fill="#1414ea"/>
<circle cx="891.1" cy="1163.9" r="2.7" fill="#1414ea"/>
<circle cx="917.7" cy="1182.9" r="2.7" fill="#1414ea"/>
<circle cx="887.1" cy="1177.9" r="2.7" fill="#1414ea"/>
<circle cx="939.4" cy="1187.0" r="2.7" fill="#1414ea"/>
<circle cx="901.4" cy="1155.8" r="2.7" fill="#1414ea"/>
<circle cx="888.7" cy="1158.3" r="2.7" fill="#1414ea"/>
<circle cx="927.7" cy="1191.0" r="2.7" fill="#1414ea"/>
<circle cx="878.0" cy="1178.9" r="2.7" fill="#1414ea"/>
<circle cx="925.9" cy="1187.3" r="2.7" fill="#1414ea"/>
<circle cx="874.2" cy="1167.0" r="2.7" fill="#1414ea"/>
<circle cx="934.0" cy="1169.8" r="2.7" fill="#1414ea"/>
<circle cx="927.5" cy="1190.5" r="2.7" fill="#1414ea"/>
<circle cx="920.4" cy="1176.6" r="2.7" fill="#1414ea"/>
<circle cx="913.4" cy="1182.5" r="2.7" fill="#1414ea"/>
<circle cx="879.1" cy="1175.5" r="2.7" fill="#1414ea"/>
<circle cx="894.3" cy="1184.7" r="2.7" fill="#1414ea"/>
<circle cx="868.0" cy="1169.7" r="2.7" fill="#1414ea"/>
<circle cx="874.6" cy="1181.7" r="2.7" fill="#1414ea"/>
<circle cx="908.0" cy="1188.0" r="2.7" fill="#1414ea"/>
<circle cx="907.8" cy="1166.7" r="2.7" fill="#1414ea"/>
<circle cx="889.0" cy="1166.8" r="2.7" fill="#1414ea"/>
<circle cx="922.2" cy="1187.6" r="2.7" fill="#1414ea"/>
<circle cx="917.7" cy="1184.2" r="2.7" fill="#1414ea"/>
<circle cx="951.1" cy="1186.1" r="2.7" fill="#1414ea"/>
<circle cx="900.4" cy="1176.1" r="2.7" fill="#1414ea"/>
<circle cx="888.6" cy="1176.2" r="2.7" fill="#1414ea"/>
<circle cx="908.8" cy="1177.6" r="2.7" fill="#1414ea"/>
<circle cx="918.0" cy="1166.1" r="2.7" fill="#1414ea"/>
<circle cx="911.5" cy="1181.7" r="2.7" fill="#1414ea"/>
<circle cx="906.8" cy="1170.6" r="2.7" fill="#1414ea"/>
<circle cx="861.3" cy="1169.1" r="2.7" fill="#1414ea"/>
<circle cx="894.9" cy="1158.8" r="2.7" fill="#1414ea"/>
<circle cx="929.8" cy="1186.3" r="2.7" fill="#1414ea"/>
<circle cx="880.5" cy="1184.5" r="2.7" fill="#1414ea"/>
<circle cx="873.1" cy="1175.8" r="2.7" fill="#1414ea"/>
<circle cx="854.3" cy="1152.2" r="2.7" fill="#1414ea"/>
<circle cx="911.6" cy="1182.0" r="2.7" fill="#1414ea"/>
<circle cx="896.9" cy="1178.9" r="2.7" fill="#1414ea"/>
<circle cx="890.9" cy="1181.9" r="2.7" fill="#1414ea"/>
<circle cx="927.7" cy="1175.0" r="2.7" fill="#1414ea"/>
<circle cx="889.3" cy="1160.3" r="2.7" fill="#1414ea"/>
<circle cx="907.0" cy="1170.6" r="2.7" fill="#1414ea"/>
<circle cx="867.2" cy="1159.3" r="2.7" fill="#1414ea"/>
<circle cx="873.7" cy="1182.5" r="2.7" fill="#1414ea"/>
<circle cx="869.4" cy="1168.8" r="2.7" fill="#1414ea"/>
<circle cx="908.2" cy="1172.6" r="2.7" fill="#1414ea"/>
<circle cx="939.1" cy="1184.4" r="2.7" fill="#1414ea"/>
<circle cx="913.6" cy="1183.0" r="2.7" fill="#1414ea"/>
<circle cx="905.2" cy="1177.7" r="2.7" fill="#1414ea"/>
<circle cx="874.3" cy="1176.5" r="2.7" fill="#1414ea"/>
<circle cx="878.3" cy="1185.0" r="2.7" fill="#1414ea"/>
<circle cx="895.9" cy="1184.0" r="2.7" fill="#1414ea"/>
<circle cx="926.7" cy="1184.3" r="2.7" fill="#1414ea"/>
<circle cx="891.9" cy="1171.6" r="2.7" fill="#1414ea"/>
<circle cx="893.0" cy="1170.4" r="2.7" fill="#1414ea"/>
<circle cx="911.8" cy="1160.7" r="2.7" fill="#1414ea"/>
<circle cx="876.1" cy="1173.2" r="2.7" fill="#1414ea"/>
<circle cx="873.2" cy="1162.5" r="2.7" fill="#1414ea"/>
<circle cx="881.7" cy="1181.6" r="2.7" fill="#1414ea"/>
<circle cx="889.9" cy="1167.2" r="2.7" fill="#1414ea"/>
<circle cx="891.2" cy="1176.9" r="2.7" fill="#1414ea"/>
<circle cx="903.8" cy="1172.9" r="2.7" fill="#1414ea"/>
<circle cx="921.8" cy="1182.5" r="2.7" fill="#1414ea"/>
<circle cx="930.5" cy="1186.5" r="2.7" fill="#1414ea"/>
<circle cx="897.6" cy="1184.2" r="2.7" fill="#1414ea"/>
<circle cx="880.4" cy="1151.2" r="2.7" fill="#1414ea"/>
<circle cx="908.1" cy="1188.7" r="2.7" fill="#1414ea"/>
<circle cx="891.6" cy="1179.7" r="2.7" fill="#1414ea"/>
<circle cx="879.0" cy="1153.1" r="2.7" fill="#1414ea"/>
<circle cx="872.9" cy="1166.2" r="2.7" fill="#1414ea"/>
<circle cx="891.4" cy="1174.3" r="2.7" fill="#1414ea"/>
<circle cx="930.9" cy="1172.8" r="2.7" fill="#1414ea"/>
<circle cx="919.8" cy="1181.1" r="2.7" fill="#1414ea"/>
<circle cx="905.1" cy="1188.2" r="2.7" fill="#1414ea"/>
<circle cx="870.2" cy="1154.3" r="2.7" fill="#1414ea"/>
<circle cx="915.4" cy="1179.5" r="2.7" fill="#1414ea"/>
<circle cx="881.2" cy="1176.6" r="2.7" fill="#1414ea"/>
<circle cx="917.5" cy="1188.6" r="2.7" fill="#1414ea"/>
<circle cx="891.2" cy="1179.2" r="2.7" fill="#1414ea"/>
<circle cx="874.7" cy="1169.1" r="2.7" fill="#1414ea"/>
<circle cx="877.5" cy="1179.5" r="2.7" fill="#1414ea"/>
<circle cx="900.9" cy="1182.5" r="2.7" fill="#1414ea"/>
<circle cx="910.5" cy="1188.6" r="2.7" fill="#1414ea"/>
<circle cx="863.8" cy="1156.5" r="2.7" fill="#1414ea"/>
<circle cx="897.3" cy="1180.3" r="2.7" fill="#1414ea"/>
<circle cx="887.1" cy="1181.6" r="2.7" fill="#1414ea"/>
<circle cx="887.5" cy="1166.7" r="2.7" fill="#1414ea"/>
<circle cx="908.5" cy="1186.3" r="2.7" fill="#1414ea"/>
<circle cx="908.6" cy="1175.0" r="2.7" fill="#1414ea"/>
<circle cx="904.5" cy="1178.5" r="2.7" fill="#1414ea"/>
<circle cx="876.4" cy="1182.0" r="2.7" fill="#1414ea"/>
<circle cx="883.0" cy="1180.7" r="2.7" fill="#1414ea"/>
<circle cx="898.5" cy="1181.3" r="2.7" fill="#1414ea"/>
<circle cx="899.5" cy="1174.7" r="2.7" fill="#1414ea"/>
<circle cx="943.6" cy="1189.2" r="2.7" fill="#1414ea"/>
<circle cx="899.2" cy="1165.2" r="2.7" fill="#1414ea"/>
<circle cx="884.4" cy="1182.7" r="2.7" fill="#1414ea"/>
<circle cx="911.8" cy="1175.1" r="2.7" fill="#1414ea"/>
<circle cx="907.8" cy="1181.8" r="2.7" fill="#1414ea"/>
<circle cx="941.3" cy="1191.8" r="2.7" fill="#1414ea"/>
<circle cx="908.2" cy="1184.0" r="2.7" fill="#1414ea"/>
<circle cx="938.2" cy="1180.1" r="2.7" fill="#1414ea"/>
<circle cx="894.1" cy="1181.0" r="2.7" fill="#1414ea"/>
<circle cx="882.5" cy="1174.4" r="2.7" fill="#1414ea"/>
<circle cx="884.9" cy="1146.1" r="2.7" fill="#1414ea"/>
<circle cx="909.8" cy="1174.6" r="2.7" fill="#1414ea"/>
<circle cx="874.7" cy="1153.3" r="2.7" fill="#1414ea"/>
<circle cx="906.1" cy="1177.8" r="2.7" fill="#1414ea"/>
<circle cx="904.4" cy="1172.0" r="2.7" fill="#1414ea"/>
<circle cx="889.0" cy="1181.8" r="2.7" fill="#1414ea"/>
<circle cx="903.1" cy="1179.6" r="2.7" fill="#1414ea"/>
<circle cx="911.4" cy="1183.9" r="2.7" fill="#1414ea"/>
<circle cx="890.5" cy="1182.0" r="2.7" fill="#1414ea"/>
<circle cx="903.3" cy="1187.4" r="2.7" fill="#1414ea"/>
<circle cx="930.1" cy="1184.9" r="2.7" fill="#1414ea"/>
<circle cx="885.8" cy="1172.6" r="2.7" fill="#1414ea"/>
<circle cx="864.9" cy="1177.6" r="2.7" fill="#1414ea"/>
<circle cx="890.7" cy="1180.4" r="2.7" fill="#1414ea"/>
<circle cx="938.0" cy="1185.7" r="2.7" fill="#1414ea"/>
<circle cx="885.9" cy="1172.7" r="2.7" fill="#1414ea"/>
<circle cx="917.4" cy="1169.7" r="2.7" fill="#1414ea"/>
<circle cx="910.5" cy="1171.2" r="2.7" fill="#1414ea"/>
<circle cx="917.0" cy="1174.3" r="2.7" fill="#1414ea"/>
<circle cx="903.4" cy="1186.6" r="2.7" fill="#1414ea"/>
<circle cx="900.1" cy="1178.1" r="2.7" fill="#1414ea"/>
<circle cx="877.2" cy="1177.0" r="2.7" fill="#1414ea"/>
<circle cx="893.3" cy="1180.4" r="2.7" fill="#1414ea"/>
<circle cx="906.1" cy="1181.8" r="2.7" fill="#1414ea"/>
<circle cx="916.7" cy="1181.8" r="2.7" fill="#1414ea"/>
<circle cx="919.9" cy="1188.0" r="2.7" fill="#1414ea"/>
<circle cx="911.9" cy="1189.1" r="2.7" fill="#1414ea"/>
<circle cx="867.1" cy="1170.4" r="2.7" fill="#1414ea"/>
<circle cx="903.4" cy="1165.7" r="2.7" fill="#1414ea"/>
<circle cx="890.6" cy="1183.1" r="2.7" fill="#1414ea"/>
<circle cx="926.9" cy="1189.4" r="2.7" fill="#1414ea"/>
<circle cx="910.0" cy="1186.1" r="2.7" fill="#1414ea"/>
<circle cx="880.3" cy="1177.7" r="2.7" fill="#1414ea"/>
<circle cx="870.1" cy="1175.2" r="2.7" fill="#1414ea"/>
<circle cx="915.3" cy="1185.6" r="2.7" fill="#1414ea"/>
<circle cx="892.3" cy="1175.9" r="2.7" fill="#1414ea"/>
<circle cx="909.0" cy="1165.6" r="2.7" fill="#1414ea"/>
<circle cx="930.5" cy="1171.7" r="2.7" fill="#1414ea"/>
<circle cx="877.7" cy="1171.3" r="2.7" fill="#1414ea"/>
<circle cx="864.6" cy="1149.9" r="2.7" fill="#1414ea"/>
<circle cx="890.5" cy="1184.3" r="2.7" fill="#1414ea"/>
<circle cx="909.8" cy="1183.4" r="2.7" fill="#1414ea"/>
<circle cx="898.5" cy="1160.8" r="2.7" fill="#1414ea"/>
<circle cx="909.7" cy="1186.1" r="2.7" fill="#1414ea"/>
<circle cx="940.7" cy="1181.1" r="2.7" fill="#1414ea"/>
<circle cx="852.0" cy="1163.5" r="2.7" fill="#1414ea"/>
<circle cx="898.6" cy="1171.9" r="2.7" fill="#1414ea"/>
<circle cx="904.2" cy="1175.4" r="2.7" fill="#1414ea"/>
<circle cx="893.5" cy="1183.5" r="2.7" fill="#1414ea"/>
<circle cx="873.4" cy="1170.3" r="2.7" fill="#1414ea"/>
<circle cx="907.2" cy="1176.1" r="2.7" fill="#1414ea"/>
<circle cx="911.2" cy="1188.0" r="2.7" fill="#1414ea"/>
<circle cx="875.8" cy="1182.7" r="2.7" fill="#1414ea"/>
<circle cx="906.6" cy="1182.5" r="2.7" fill="#1414ea"/>
<circle cx="878.2" cy="1153.7" r="2.7" fill="#1414ea"/>
<circle cx="891.3" cy="1177.5" r="2.7" fill="#1414ea"/>
<circle cx="949.7" cy="1169.3" r="2.7" fill="#1414ea"/>
<circle cx="895.1" cy="1177.1" r="2.7" fill="#1414ea"/>
<circle cx="915.3" cy="1188.9" r="2.7" fill="#1414ea"/>
<circle cx="874.5" cy="1180.3" r="2.7" fill="#1414ea"/>
<circle cx="914.5" cy="1171.8" r="2.7" fill="#1414ea"/>
<circle cx="890.5" cy="1167.7" r="2.7" fill="#1414ea"/>
<circle cx="898.0" cy="1174.5" r="2.7" fill="#1414ea"/>
<circle cx="903.2" cy="1183.8" r="2.7" fill="#1414ea"/>
<circle cx="898.1" cy="1180.0" r="2.7" fill="#1414ea"/>
<circle cx="906.1" cy="1177.6" r="2.7" fill="#1414ea"/>
<circle cx="944.0" cy="1178.8" r="2.7" fill="#1414ea"/>
<circle cx="855.6" cy="1167.3" r="2.7" fill="#1414ea"/>
<circle cx="890.0" cy="1164.3" r="2.7" fill="#1414ea"/>
<circle cx="898.4" cy="1185.1" r="2.7" fill="#1414ea"/>
<circle cx="910.7" cy="1175.3" r="2.7" fill="#1414ea"/>
<circle cx="895.7" cy="1160.7" r="2.7" fill="#1414ea"/>
<circle cx="879.0" cy="1159.6" r="2.7" fill="#1414ea"/>
<circle cx="898.0" cy="1182.4" r="2.7" fill="#1414ea"/>
<circle cx="865.2" cy="1169.3" r="2.7" fill="#1414ea"/>
<circle cx="868.9" cy="1170.6" r="2.7" fill="#1414ea"/>
<circle cx="855.2" cy="1149.1" r="2.7" fill="#1414ea"/>
<circle cx="895.2" cy="1179.6" r="2.7" fill="#1414ea"/>
<circle cx="876.2" cy="1162.8" r="2.7" fill="#1414ea"/>
<circle cx="918.7" cy="1188.8" r="2.7" fill="#1414ea"/>
<circle cx="932.3" cy="1166.0" r="2.7" fill="#1414ea"/>
<circle cx="896.9" cy="1176.9" r="2.7" fill="#1414ea"/>
<circle cx="874.0" cy="1175.2" r="2.7" fill="#1414ea"/>
<circle cx="916.8" cy="1177.4" r="2.7" fill="#1414ea"/>
<circle cx="897.1" cy="1182.7" r="2.7" fill="#1414ea"/>
<circle cx="869.7" cy="1155.6" r="2.7" fill="#1414ea"/>
<circle cx="879.8" cy="1182.5" r="2.7" fill="#1414ea"/>
<circle cx="933.4" cy="1186.4" r="2.7" fill="#1414ea"/>
<circle cx="905.8" cy="1186.1" r="2.7" fill="#1414ea"/>
<circle cx="940.1" cy="1189.9" r="2.7" fill="#1414ea"/>
<circle cx="921.2" cy="1188.3" r="2.7" fill="#1414ea"/>
<circle cx="929.7" cy="1173.0" r="2.7" fill="#1414ea"/>
<circle cx="862.1" cy="1157.2" r="2.7" fill="#1414ea"/>
<circle cx="910.2" cy="1187.5" r="2.7" fill="#1414ea"/>
<circle cx="907.9" cy="1180.6" r="2.7" fill="#1414ea"/>
<circle cx="882.6" cy="1182.4" r="2.7" fill="#1414ea"/>
<circle cx="862.0" cy="1161.9" r="2.7" fill="#1414ea"/>
<circle cx="926.3" cy="1184.2" r="2.7" fill="#1414ea"/>
<circle cx="924.0" cy="1181.0" r="2.7" fill="#1414ea"/>
<circle cx="910.0" cy="1165.3" r="2.7" fill="#1414ea"/>
<circle cx="897.2" cy="1180.2" r="2.7" fill="#1414ea"/>
<circle cx="876.7" cy="1154.4" r="2.7" fill="#1414ea"/>
<circle cx="903.8" cy="1179.6" r="2.7" fill="#1414ea"/>
<circle cx="900.9" cy="1181.0" r="2.7" fill="#1414ea"/>
<circle cx="918.6" cy="1189.1" r="2.7" fill="#1414ea"/>
<circle cx="875.1" cy="1176.7" r="2.7" fill="#1414ea"/>
<circle cx="919.0" cy="1188.1" r="2.7" fill="#1414ea"/>
<circle cx="909.7" cy="1180.7" r="2.7" fill="#1414ea"/>
<circle cx="920.9" cy="1168.4" r="2.7" fill="#1414ea"/>
<circle cx="913.8" cy="1189.4" r="2.7" fill="#1414ea"/>
<circle cx="876.1" cy="1167.9" r="2.7" fill="#1414ea"/>
<circle cx="907.2" cy="1183.9" r="2.7" fill="#1414ea"/>
<circle cx="873.3" cy="1180.5" r="2.7" fill="#1414ea"/>
<circle cx="910.9" cy="1177.8" r="2.7" fill="#1414ea"/>
<circle cx="865.6" cy="1167.8" r="2.7" fill="#1414ea"/>
<circle cx="928.6" cy="1191.0" r="2.7" fill="#1414ea"/>
<circle cx="927.8" cy="1184.4" r="2.7" fill="#1414ea"/>
<circle cx="902.7" cy="1184.5" r="2.7" fill="#1414ea"/>
<circle cx="918.6" cy="1181.7" r="2.7" fill="#1414ea"/>
<circle cx="899.9" cy="1176.3" r="2.7" fill="#1414ea"/>
<circle cx="894.0" cy="1182.5" r="2.7" fill="#1414ea"/>
<circle cx="889.1" cy="1183.9" r="2.7" fill="#1414ea"/>
<circle cx="943.5" cy="1169.8" r="2.7" fill="#1414ea"/>
<circle cx="868.3" cy="1161.2" r="2.7" fill="#1414ea"/>
<circle cx="905.5" cy="1184.2" r="2.7" fill="#1414ea"/>
<circle cx="869.5" cy="1177.7" r="2.7" fill="#1414ea"/>
<circle cx="932.5" cy="1190.1" r="2.7" fill="#1414ea"/>
<circle cx="885.1" cy="1175.6" r="2.7" fill="#1414ea"/>
<circle cx="881.0" cy="1166.6" r="2.7" fill="#1414ea"/>
<circle cx="902.5" cy="1182.0" r="2.7" fill="#1414ea"/>
<circle cx="934.0" cy="1183.3" r="2.7" fill="#1414ea"/>
<circle cx="944.8" cy="1186.4" r="2.7" fill="#1414ea"/>
<circle cx="902.9" cy="1172.0" r="2.7" fill="#1414ea"/>
<circle cx="929.1" cy="1190.7" r="2.7" fill="#1414ea"/>
<circle cx="911.1" cy="1183.0" r="2.7" fill="#1414ea"/>
<circle cx="867.5" cy="1170.7" r="2.7" fill="#1414ea"/>
<circle cx="852.1" cy="1145.2" r="2.7" fill="#1414ea"/>
<circle cx="876.7" cy="1170.7" r="2.7" fill="#1414ea"/>
<circle cx="875.4" cy="1166.2" r="2.7" fill="#1414ea"/>
<circle cx="896.0" cy="1183.5" r="2.7" fill="#1414ea"/>
<circle cx="867.3" cy="1175.6" r="2.7" fill="#1414ea"/>
<circle cx="901.8" cy="1180.1" r="2.7" fill="#1414ea"/>
<circle cx="920.3" cy="1185.0" r="2.7" fill="#1414ea"/>
<circle cx="896.5" cy="1162.1" r="2.7" fill="#1414ea"/>
<circle cx="917.9" cy="1182.3" r="2.7" fill="#1414ea"/>
<circle cx="868.8" cy="1174.9" r="2.7" fill="#1414ea"/>
<circle cx="920.4" cy="1170.1" r="2.7" fill="#1414ea"/>
<circle cx="881.2" cy="1145.4" r="2.7" fill="#1414ea"/>
<circle cx="905.7" cy="1173.7" r="2.7" fill="#1414ea"/>
<circle cx="895.3" cy="1163.2" r="2.7" fill="#1414ea"/>
<circle cx="886.7" cy="1183.7" r="2.7" fill="#1414ea"/>
<circle cx="888.8" cy="1173.7" r="2.7" fill="#1414ea"/>
<circle cx="932.7" cy="1190.5" r="2.7" fill="#1414ea"/>
<circle cx="874.7" cy="1151.8" r="2.7" fill="#1414ea"/>
<circle cx="900.2" cy="1161.9" r="2.7" fill="#1414ea"/>
<circle cx="901.9" cy="1184.2" r="2.7" fill="#1414ea"/>
<circle cx="895.3" cy="1181.9" r="2.7" fill="#1414ea"/>
<circle cx="868.5" cy="1158.1" r="2.7" fill="#1414ea"/>
<circle cx="916.9" cy="1187.0" r="2.7" fill="#1414ea"/>
<circle cx="889.8" cy="1169.8" r="2.7" fill="#1414ea"/>
<circle cx="874.6" cy="1179.1" r="2.7" fill="#1414ea"/>
<circle cx="868.6" cy="1157.3" r="2.7" fill="#1414ea"/>
<circle cx="901.8" cy="1160.1" r="2.7" fill="#1414ea"/>
<circle cx="897.2" cy="1181.1" r="2.7" fill="#1414ea"/>
<circle cx="912.5" cy="1173.8" r="2.7" fill="#1414ea"/>
<circle cx="912.9" cy="1165.5" r="2.7" fill="#1414ea"/>
<circle cx="897.1" cy="1184.5" r="2.7" fill="#1414ea"/>
<circle cx="919.6" cy="1189.2" r="2.7" fill="#1414ea"/>
<circle cx="872.3" cy="1171.7" r="2.7" fill="#1414ea"/>
<circle cx="897.3" cy="1177.4" r="2.7" fill="#1414ea"/>
<circle cx="880.8" cy="1158.0" r="2.7" fill="#1414ea"/>
<circle cx="906.9" cy="1182.1" r="2.7" fill="#1414ea"/>
<circle cx="893.8" cy="1183.9" r="2.7" fill="#1414ea"/>
<circle cx="901.5" cy="1173.5" r="2.7" fill="#1414ea"/>
<circle cx="906.5" cy="1186.0" r="2.7" fill="#1414ea"/>
<circle cx="875.2" cy="1166.8" r="2.7" fill="#1414ea"/>
<circle cx="932.8" cy="1184.0" r="2.7" fill="#1414ea"/>
<circle cx="898.0" cy="1173.1" r="2.7" fill="#1414ea"/>
<circle cx="884.7" cy="1170.7" r="2.7" fill="#1414ea"/>
<circle cx="908.3" cy="1180.6" r="2.7" fill="#1414ea"/>
<circle cx="920.6" cy="1164.1" r="2.7" fill="#1414ea"/>
<circle cx="889.4" cy="1174.5" r="2.7" fill="#1414ea"/>
<circle cx="873.4" cy="1175.0" r="2.7" fill="#1414ea"/>
<circle cx="887.0" cy="1179.0" r="2.7" fill="#1414ea"/>
<circle cx="902.5" cy="1184.8" r="2.7" fill="#1414ea"/>
<circle cx="865.5" cy="1153.4" r="2.7" fill="#1414ea"/>
<circle cx="863.4" cy="1175.9" r="2.7" fill="#1414ea"/>
<circle cx="865.8" cy="1178.2" r="2.7" fill="#1414ea"/>
<circle cx="900.3" cy="1186.3" r="2.7" fill="#1414ea"/>
<circle cx="924.8" cy="1188.5" r="2.7" fill="#1414ea"/>
<circle cx="882.7" cy="1164.2" r="2.7" fill="#1414ea"/>
<circle cx="930.2" cy="1158.8" r="2.7" fill="#1414ea"/>
<circle cx="895.9" cy="1176.8" r="2.7" fill="#1414ea"/>
<circle cx="923.4" cy="1175.5" r="2.7" fill="#1414ea"/>
<circle cx="900.4" cy="1149.7" r="2.7" fill="#1414ea"/>
<circle cx="899.4" cy="1177.6" r="2.7" fill="#1414ea"/>
<circle cx="890.0" cy="1160.4" r="2.7" fill="#1414ea"/>
<circle cx="879.6" cy="1158.0" r="2.7" fill="#1414ea"/>
<circle cx="904.9" cy="1176.8" r="2.7" fill="#1414ea"/>
<circle cx="886.0" cy="1152.7" r="2.7" fill="#1414ea"/>
<circle cx="904.6" cy="1175.4" r="2.7" fill="#1414ea"/>
<circle cx="894.0" cy="1183.6" r="2.7" fill="#1414ea"/>
<circle cx="950.4" cy="1190.1" r="2.7" fill="#1414ea"/>
<circle cx="892.5" cy="1166.8" r="2.7" fill="#1414ea"/>
<circle cx="889.2" cy="1165.4" r="2.7" fill="#1414ea"/>
<circle cx="885.9" cy="1157.7" r="2.7" fill="#1414ea"/>
<circle cx="880.3" cy="1156.2" r="2.7" fill="#1414ea"/>
<circle cx="909.4" cy="1174.3" r="2.7" fill="#1414ea"/>
<circle cx="863.7" cy="1179.2" r="2.7" fill="#1414ea"/>
<circle cx="914.0" cy="1179.9" r="2.7" fill="#1414ea"/>
<circle cx="910.2" cy="1177.2" r="2.7" fill="#1414ea"/>
<circle cx="872.8" cy="1145.7" r="2.7" fill="#1414ea"/>
<circle cx="865.6" cy="1159.3" r="2.7" fill="#1414ea"/>
<circle cx="907.4" cy="1186.3" r="2.7" fill="#1414ea"/>
<circle cx="916.0" cy="1190.2" r="2.7" fill="#1414ea"/>
<circle cx="910.3" cy="1182.8" r="2.7" fill="#1414ea"/>
<circle cx="888.7" cy="1163.1" r="2.7" fill="#1414ea"/>
<circle cx="910.6" cy="1180.5" r="2.7" fill="#1414ea"/>
<circle cx="895.6" cy="1175.7" r="2.7" fill="#1414ea"/>
<circle cx="903.8" cy="1168.0" r="2.7" fill="#1414ea"/>
<circle cx="880.3" cy="1172.0" r="2.7" fill="#1414ea"/>
<circle cx="868.7" cy="1172.4" r="2.7" fill="#1414ea"/>
<circle cx="882.2" cy="1179.5" r="2.7" fill="#1414ea"/>
<circle cx="860.4" cy="1177.3" r="2.7" fill="#1414ea"/>
<circle cx="891.3" cy="1182.4" r="2.7" fill="#1414ea"/>
<circle cx="911.5" cy="1176.6" r="2.7" fill="#1414ea"/>
<circle cx="912.1" cy="1188.0" r="2.7" fill="#1414ea"/>
<circle cx="880.8" cy="1154.2" r="2.7" fill="#1414ea"/>
<circle cx="909.9" cy="1176.6" r="2.7" fill="#1414ea"/>
<circle cx="873.9" cy="1170.7" r="2.7" fill="#1414ea"/>
<circle cx="908.8" cy="1182.6" r="2.7" fill="#1414ea"/>
<circle cx="883.9" cy="1183.0" r="2.7" fill="#1414ea"/>
<circle cx="907.8" cy="1174.0" r="2.7" fill="#1414ea"/>
<circle cx="938.1" cy="1175.6" r="2.7" fill="#1414ea"/>
<circle cx="878.7" cy="1150.8" r="2.7" fill="#1414ea"/>
<circle cx="946.5" cy="1180.0" r="2.7" fill="#1414ea"/>
<circle cx="890.0" cy="1166.5" r="2.7" fill="#1414ea"/>
<circle cx="899.3" cy="1174.8" r="2.7" fill="#1414ea"/>
<circle cx="886.7" cy="1178.4" r="2.7" fill="#1414ea"/>
<circle cx="905.8" cy="1186.7" r="2.7" fill="#1414ea"/>
<circle cx="901.5" cy="1185.6" r="2.7" fill="#1414ea"/>
<circle cx="921.9" cy="1188.6" r="2.7" fill="#1414ea"/>
<circle cx="911.0" cy="1182.0" r="2.7" fill="#1414ea"/>
<circle cx="896.8" cy="1166.4" r="2.7" fill="#1414ea"/>
<circle cx="942.5" cy="1187.6" r="2.7" fill="#1414ea"/>
<circle cx="930.3" cy="1183.3" r="2.7" fill="#1414ea"/>
<circle cx="917.9" cy="1184.4" r="2.7" fill="#1414ea"/>
<circle cx="803.0" cy="973.7" r="2.7" fill="#1414ea"/>
<circle cx="822.2" cy="1033.1" r="2.7" fill="#1414ea"/>
<circle cx="822.2" cy="1040.8" r="2.7" fill="#1414ea"/>
<circle cx="851.2" cy="1034.4" r="2.7" fill="#1414ea"/>
<circle cx="822.2" cy="1149.0" r="2.7" fill="#1414ea"/>
<circle cx="827.0" cy="1159.3" r="2.7" fill="#1414ea"/>
<circle cx="813.0" cy="1171.6" r="2.7" fill="#1414ea"/>
<circle cx="839.8" cy="1129.9" r="2.7" fill="#1414ea"/>
<circle cx="851.2" cy="1128.1" r="2.7" fill="#1414ea"/>
<circle cx="855.6" cy="1122.2" r="2.7" fill="#1414ea"/>
<circle cx="838.7" cy="1194.7" r="2.7" fill="#1414ea"/>
<circle cx="851.2" cy="1146.8" r="2.7" fill="#1414ea"/>
<circle cx="856.3" cy="1153.4" r="2.7" fill="#1414ea"/>
<circle cx="849.7" cy="1165.5" r="2.7" fill="#1414ea"/>
<circle cx="850.8" cy="1176.5" r="2.7" fill="#1414ea"/>
<circle cx="856.9" cy="1167.7" r="2.7" fill="#1414ea"/>
<circle cx="867.0" cy="1071.2" r="2.7" fill="#1414ea"/>
<circle cx="891.9" cy="1089.6" r="2.7" fill="#1414ea"/>
<circle cx="879.2" cy="1100.5" r="2.7" fill="#1414ea"/>
<circle cx="882.7" cy="1105.8" r="2.7" fill="#1414ea"/>
<circle cx="855.0" cy="1121.9" r="2.7" fill="#1414ea"/>
<circle cx="893.5" cy="1123.1" r="2.7" fill="#1414ea"/>
<circle cx="896.5" cy="1129.5" r="2.7" fill="#1414ea"/>
<circle cx="868.8" cy="1131.2" r="2.7" fill="#1414ea"/>
<circle cx="875.1" cy="1133.5" r="2.7" fill="#1414ea"/>
<circle cx="875.1" cy="1138.1" r="2.7" fill="#1414ea"/>
<circle cx="862.4" cy="1139.7" r="2.7" fill="#1414ea"/>
<circle cx="901.9" cy="1139.7" r="2.7" fill="#1414ea"/>
<circle cx="1026.5" cy="1140.9" r="2.7" fill="#1414ea"/>
<circle cx="1077.7" cy="1162.3" r="2.7" fill="#1414ea"/>
<circle cx="1077.7" cy="1198.6" r="2.7" fill="#1414ea"/>
<circle cx="988.9" cy="1168.6" r="2.7" fill="#1414ea"/>
<circle cx="1002.7" cy="1189.6" r="2.7" fill="#1414ea"/>
<circle cx="961.6" cy="1173.2" r="2.7" fill="#1414ea"/>
<circle cx="964.6" cy="1180.1" r="2.7" fill="#1414ea"/>
<circle cx="973.4" cy="1177.8" r="2.7" fill="#1414ea"/>
<circle cx="955.4" cy="1179.2" r="2.7" fill="#1414ea"/>
<circle cx="976.2" cy="1186.1" r="2.7" fill="#1414ea"/>
<circle cx="931.2" cy="1159.3" r="2.7" fill="#1414ea"/>
<circle cx="938.1" cy="1161.6" r="2.7" fill="#1414ea"/>
<circle cx="912.2" cy="1148.5" r="2.7" fill="#1414ea"/>
<polyline points="801.5,1135.8 805.7,1138.2 809.8,1140.6 814.0,1142.8 818.2,1145.0 822.3,1147.2 826.5,1149.2 830.7,1151.2 834.8,1153.1 839.0,1154.9 843.1,1156.7 847.3,1158.4 851.5,1160.0 855.6,1161.6 859.8,1163.2 864.0,1164.6 868.1,1166.0 872.3,1167.4 876.4,1168.7 880.6,1170.0 884.8,1171.2 888.9,1172.4 893.1,1173.6 897.3,1174.7 901.4,1175.7 905.6,1176.8 909.7,1177.8 913.9,1178.7 918.1,1179.6 922.2,1180.5 926.4,1181.4 930.6,1182.2 934.7,1183.0 938.9,1183.7 943.0,1184.5 947.2,1185.2 951.4,1185.9 955.5,1186.6 959.7,1187.2 963.9,1187.8 968.0,1188.4 972.2,1189.0 976.3,1189.5 980.5,1190.1 984.7,1190.6 988.8,1191.1 993.0,1191.5 997.2,1192.0 1001.3,1192.4 1005.5,1192.9 1009.6,1193.3 1013.8,1193.7 1018.0,1194.1 1022.1,1194.4 1026.3,1194.8 1030.5,1195.1 1034.6,1195.5 1038.8,1195.8 1042.9,1196.1 1047.1,1196.4 1051.3,1196.7 1055.4,1197.0 1059.6,1197.2 1063.8,1197.5 1067.9,1197.7 1072.1,1198.0 1076.2,1198.2" fill="none" stroke="#f06414" stroke-width="1.8"/>
</svg>
</body></html>
